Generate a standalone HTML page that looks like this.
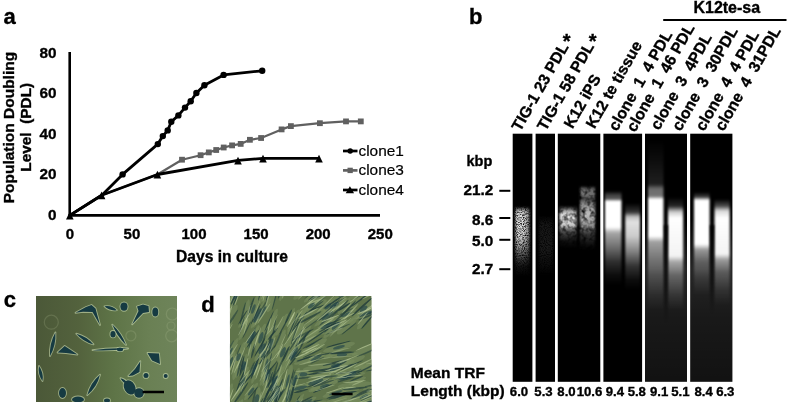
<!DOCTYPE html>
<html><head><meta charset="utf-8">
<style>
html,body{margin:0;padding:0;background:#fff;}
body{width:787px;height:404px;overflow:hidden;}
svg{display:block;}
text{font-family:"Liberation Sans",sans-serif;opacity:0.999;}
.b{font-weight:bold;stroke:#000;stroke-width:0.35px;}
</style></head>
<body>
<svg width="787" height="404" viewBox="0 0 787 404">
<defs>
<filter id="bl1" x="-30%" y="-30%" width="160%" height="160%"><feGaussianBlur stdDeviation="1"/></filter>
<filter id="bl05" x="-30%" y="-30%" width="160%" height="160%"><feGaussianBlur stdDeviation="0.6"/></filter>
<filter id="bl2" x="-30%" y="-30%" width="160%" height="160%"><feGaussianBlur stdDeviation="2"/></filter>
<filter id="speck" x="-10%" y="-10%" width="120%" height="120%">
  <feTurbulence type="fractalNoise" baseFrequency="0.9" numOctaves="1" seed="3" result="n"/>
  <feColorMatrix in="n" type="matrix" values="0 0 0 0 0  0 0 0 0 0  0 0 0 0 0  0 0 0 2.6 -0.55" result="a"/>
  <feComposite in="SourceGraphic" in2="a" operator="in"/>
</filter>
<filter id="blotch" x="-10%" y="-10%" width="120%" height="120%">
  <feTurbulence type="fractalNoise" baseFrequency="0.22" numOctaves="2" seed="5" result="n"/>
  <feColorMatrix in="n" type="matrix" values="0 0 0 0 0  0 0 0 0 0  0 0 0 0 0  0 0 0 1.9 -0.15" result="a"/>
  <feComposite in="SourceGraphic" in2="a" operator="in"/>
</filter>
<clipPath id="cc"><rect x="35.9" y="296" width="141.1" height="106"/></clipPath>
<clipPath id="cd"><rect x="229.9" y="296" width="141.7" height="106"/></clipPath>

<linearGradient id="l1" gradientUnits="userSpaceOnUse" x1="0" y1="207" x2="0" y2="276"><stop offset="0.0000" stop-color="#fff" stop-opacity="0"/><stop offset="0.0435" stop-color="#fff" stop-opacity="0.7"/><stop offset="0.1014" stop-color="#fff" stop-opacity="0.9"/><stop offset="0.4203" stop-color="#fff" stop-opacity="0.85"/><stop offset="0.5942" stop-color="#fff" stop-opacity="0.55"/><stop offset="0.7101" stop-color="#fff" stop-opacity="0.3"/><stop offset="0.8551" stop-color="#fff" stop-opacity="0.08"/><stop offset="1.0000" stop-color="#fff" stop-opacity="0"/></linearGradient>
<linearGradient id="l2" gradientUnits="userSpaceOnUse" x1="0" y1="215" x2="0" y2="275"><stop offset="0.0000" stop-color="#fff" stop-opacity="0"/><stop offset="0.1667" stop-color="#fff" stop-opacity="0.09"/><stop offset="0.5833" stop-color="#fff" stop-opacity="0.1"/><stop offset="0.8500" stop-color="#fff" stop-opacity="0.04"/><stop offset="1.0000" stop-color="#fff" stop-opacity="0"/></linearGradient>
<linearGradient id="l3" gradientUnits="userSpaceOnUse" x1="0" y1="206" x2="0" y2="248"><stop offset="0.0000" stop-color="#fff" stop-opacity="0"/><stop offset="0.1190" stop-color="#fff" stop-opacity="0.65"/><stop offset="0.2143" stop-color="#fff" stop-opacity="0.9"/><stop offset="0.4524" stop-color="#fff" stop-opacity="0.8"/><stop offset="0.5714" stop-color="#fff" stop-opacity="0.35"/><stop offset="0.8095" stop-color="#fff" stop-opacity="0.08"/><stop offset="1.0000" stop-color="#fff" stop-opacity="0"/></linearGradient>
<linearGradient id="l4" gradientUnits="userSpaceOnUse" x1="0" y1="186" x2="0" y2="250"><stop offset="0.0000" stop-color="#fff" stop-opacity="0"/><stop offset="0.0469" stop-color="#fff" stop-opacity="0.4"/><stop offset="0.1406" stop-color="#fff" stop-opacity="0.45"/><stop offset="0.2031" stop-color="#fff" stop-opacity="0.25"/><stop offset="0.2656" stop-color="#fff" stop-opacity="0.5"/><stop offset="0.4375" stop-color="#fff" stop-opacity="0.75"/><stop offset="0.6250" stop-color="#fff" stop-opacity="0.55"/><stop offset="0.7500" stop-color="#fff" stop-opacity="0.2"/><stop offset="0.9219" stop-color="#fff" stop-opacity="0.05"/><stop offset="1.0000" stop-color="#fff" stop-opacity="0"/></linearGradient>
<linearGradient id="l5" gradientUnits="userSpaceOnUse" x1="0" y1="191" x2="0" y2="285"><stop offset="0.0000" stop-color="#fff" stop-opacity="0"/><stop offset="0.0426" stop-color="#fff" stop-opacity="0.25"/><stop offset="0.0851" stop-color="#fff" stop-opacity="0.35"/><stop offset="0.1117" stop-color="#fff" stop-opacity="1"/><stop offset="0.3830" stop-color="#fff" stop-opacity="1"/><stop offset="0.4468" stop-color="#fff" stop-opacity="0.65"/><stop offset="0.6064" stop-color="#fff" stop-opacity="0.42"/><stop offset="0.7553" stop-color="#fff" stop-opacity="0.18"/><stop offset="0.8936" stop-color="#fff" stop-opacity="0.05"/><stop offset="1.0000" stop-color="#fff" stop-opacity="0"/></linearGradient>
<linearGradient id="l6" gradientUnits="userSpaceOnUse" x1="0" y1="203" x2="0" y2="290"><stop offset="0.0000" stop-color="#fff" stop-opacity="0"/><stop offset="0.1034" stop-color="#fff" stop-opacity="0.2"/><stop offset="0.1609" stop-color="#fff" stop-opacity="0.75"/><stop offset="0.2184" stop-color="#fff" stop-opacity="0.88"/><stop offset="0.3793" stop-color="#fff" stop-opacity="0.8"/><stop offset="0.5632" stop-color="#fff" stop-opacity="0.5"/><stop offset="0.7241" stop-color="#fff" stop-opacity="0.2"/><stop offset="0.8851" stop-color="#fff" stop-opacity="0.05"/><stop offset="1.0000" stop-color="#fff" stop-opacity="0"/></linearGradient>
<linearGradient id="l7" gradientUnits="userSpaceOnUse" x1="0" y1="140" x2="0" y2="310"><stop offset="0.0000" stop-color="#fff" stop-opacity="0"/><stop offset="0.1176" stop-color="#fff" stop-opacity="0.05"/><stop offset="0.2588" stop-color="#fff" stop-opacity="0.12"/><stop offset="0.2882" stop-color="#fff" stop-opacity="0.42"/><stop offset="0.3294" stop-color="#fff" stop-opacity="0.45"/><stop offset="0.3500" stop-color="#fff" stop-opacity="1"/><stop offset="0.5647" stop-color="#fff" stop-opacity="1"/><stop offset="0.6000" stop-color="#fff" stop-opacity="0.6"/><stop offset="0.6941" stop-color="#fff" stop-opacity="0.4"/><stop offset="0.7941" stop-color="#fff" stop-opacity="0.2"/><stop offset="0.9118" stop-color="#fff" stop-opacity="0.06"/><stop offset="1.0000" stop-color="#fff" stop-opacity="0"/></linearGradient>
<linearGradient id="l8" gradientUnits="userSpaceOnUse" x1="0" y1="197" x2="0" y2="310"><stop offset="0.0000" stop-color="#fff" stop-opacity="0"/><stop offset="0.0796" stop-color="#fff" stop-opacity="0.15"/><stop offset="0.1327" stop-color="#fff" stop-opacity="0.8"/><stop offset="0.1858" stop-color="#fff" stop-opacity="1"/><stop offset="0.5221" stop-color="#fff" stop-opacity="0.95"/><stop offset="0.5752" stop-color="#fff" stop-opacity="0.6"/><stop offset="0.6903" stop-color="#fff" stop-opacity="0.3"/><stop offset="0.8673" stop-color="#fff" stop-opacity="0.1"/><stop offset="1.0000" stop-color="#fff" stop-opacity="0"/></linearGradient>
<linearGradient id="l9" gradientUnits="userSpaceOnUse" x1="0" y1="192" x2="0" y2="295"><stop offset="0.0000" stop-color="#fff" stop-opacity="0"/><stop offset="0.0485" stop-color="#fff" stop-opacity="0.25"/><stop offset="0.0825" stop-color="#fff" stop-opacity="1"/><stop offset="0.5049" stop-color="#fff" stop-opacity="1"/><stop offset="0.5631" stop-color="#fff" stop-opacity="0.55"/><stop offset="0.6796" stop-color="#fff" stop-opacity="0.28"/><stop offset="0.8350" stop-color="#fff" stop-opacity="0.1"/><stop offset="1.0000" stop-color="#fff" stop-opacity="0"/></linearGradient>
<linearGradient id="l10" gradientUnits="userSpaceOnUse" x1="0" y1="199" x2="0" y2="305"><stop offset="0.0000" stop-color="#fff" stop-opacity="0"/><stop offset="0.0660" stop-color="#fff" stop-opacity="0.3"/><stop offset="0.1132" stop-color="#fff" stop-opacity="0.85"/><stop offset="0.1792" stop-color="#fff" stop-opacity="1"/><stop offset="0.5189" stop-color="#fff" stop-opacity="0.95"/><stop offset="0.5755" stop-color="#fff" stop-opacity="0.55"/><stop offset="0.6887" stop-color="#fff" stop-opacity="0.25"/><stop offset="0.8585" stop-color="#fff" stop-opacity="0.08"/><stop offset="1.0000" stop-color="#fff" stop-opacity="0"/></linearGradient>
<linearGradient id="haze" x1="0" y1="0" x2="0" y2="1"><stop offset="0" stop-color="#fff" stop-opacity="0"/><stop offset="0.3" stop-color="#fff" stop-opacity="0.15"/><stop offset="0.6" stop-color="#fff" stop-opacity="0.1"/><stop offset="1" stop-color="#fff" stop-opacity="0.07"/></linearGradient>
<linearGradient id="cbg" x1="0" y1="0" x2="1" y2="0"><stop offset="0" stop-color="#4b5838"/><stop offset="0.3" stop-color="#53623d"/><stop offset="0.55" stop-color="#5e7447"/><stop offset="0.8" stop-color="#6a8054"/><stop offset="1" stop-color="#6e845a"/></linearGradient>
<linearGradient id="l1shade" x1="0" y1="0" x2="1" y2="0"><stop offset="0" stop-color="#000" stop-opacity="0"/><stop offset="1" stop-color="#000" stop-opacity="0.45"/></linearGradient>
<linearGradient id="gapg" x1="0" y1="0" x2="0" y2="1"><stop offset="0" stop-color="#000" stop-opacity="0.9"/><stop offset="0.6" stop-color="#000" stop-opacity="0.5"/><stop offset="1" stop-color="#000" stop-opacity="0"/></linearGradient>
</defs>
<rect width="787" height="404" fill="#fff"/>
<!-- ===== Panel a ===== -->
<text x="3.5" y="23.7" class="b" font-size="22">a</text>
<g class="b" font-size="15">
  <text transform="translate(13.5,127.6) rotate(-90)" text-anchor="middle" font-size="15.5">Population Doubling</text>
  <text transform="translate(30.5,127.3) rotate(-90)" text-anchor="middle" font-size="15.4">Level &#160;(PDL)</text>
</g>
<g class="b" font-size="15.3" text-anchor="end">
  <text x="56.6" y="57.6">80</text>
  <text x="56.6" y="98">60</text>
  <text x="56.6" y="138.6">40</text>
  <text x="56.6" y="179.4">20</text>
  <text x="56.6" y="219.8">0</text>
</g>
<g class="b" font-size="15" text-anchor="middle">
  <text x="69.8" y="239">0</text>
  <text x="131.9" y="239">50</text>
  <text x="194" y="239">100</text>
  <text x="256.1" y="239">150</text>
  <text x="318.2" y="239">200</text>
  <text x="380.3" y="239">250</text>
  <text x="232" y="262" font-size="15.6">Days in culture</text>
</g>
<!-- axes -->
<line x1="69.7" y1="52" x2="69.7" y2="216.5" stroke="#000" stroke-width="2.6"/>
<line x1="68.5" y1="215.4" x2="380" y2="215.4" stroke="#000" stroke-width="2.6"/>

<!-- clone3 gray -->
<polyline fill="none" stroke="#606060" stroke-width="2.2" stroke-linejoin="round"
 points="69.8,215.4 101.6,195.3 157.4,174.5 182,159.7 200.6,155.2 208.8,152.4 216.2,150.0 223.7,147.5 232.1,145.4 240.7,143.9 249.9,139.8 261.1,138.0 281.6,129.4 290.9,126.1 319.9,123.2 346,121.4 360.8,121.4"/>
<g fill="#606060">
  <rect x="179.1" y="156.8" width="5.8" height="5.8"/><rect x="197.7" y="152.3" width="5.8" height="5.8"/>
  <rect x="205.9" y="149.5" width="5.8" height="5.8"/><rect x="213.29999999999998" y="147.1" width="5.8" height="5.8"/>
  <rect x="220.79999999999998" y="144.6" width="5.8" height="5.8"/><rect x="229.2" y="142.5" width="5.8" height="5.8"/>
  <rect x="237.79999999999998" y="141.0" width="5.8" height="5.8"/><rect x="247.0" y="136.9" width="5.8" height="5.8"/>
  <rect x="258.20000000000005" y="135.1" width="5.8" height="5.8"/><rect x="278.70000000000005" y="126.5" width="5.8" height="5.8"/>
  <rect x="288.0" y="123.2" width="5.8" height="5.8"/><rect x="317.0" y="120.3" width="5.8" height="5.8"/>
  <rect x="343.1" y="118.5" width="5.8" height="5.8"/><rect x="357.90000000000003" y="118.5" width="5.8" height="5.8"/>
</g>
<!-- clone4 -->
<polyline fill="none" stroke="#000" stroke-width="2.8" stroke-linejoin="round"
 points="69.8,215.4 101.6,195.3 157.4,174.5 238,160.4 263,158.3 319,158.3"/>
<!-- clone1 -->
<polyline fill="none" stroke="#000" stroke-width="2.8" stroke-linejoin="round"
 points="69.8,215.4 101.6,195.4 122.6,174.4 157.8,144.1 162.8,136.1 167.7,130.4 171.3,121.8 178.4,115.4 185,107.6 190.7,101.2 196.4,93.0 204.4,85.2 223.6,74.9 262.2,70.8"/>
<g fill="#000">
  <circle cx="122.6" cy="174.4" r="3.2"/><circle cx="157.8" cy="144.1" r="3.2"/>
  <circle cx="162.8" cy="136.1" r="3.2"/><circle cx="167.7" cy="130.4" r="3.2"/>
  <circle cx="171.3" cy="121.8" r="3.2"/><circle cx="178.4" cy="115.4" r="3.2"/>
  <circle cx="185" cy="107.6" r="3.2"/><circle cx="190.7" cy="101.2" r="3.2"/>
  <circle cx="196.4" cy="93.0" r="3.2"/><circle cx="204.4" cy="85.2" r="3.2"/>
  <circle cx="223.6" cy="74.9" r="3.2"/><circle cx="262.2" cy="70.8" r="3.2"/>
  <!-- triangles -->
  <path d="M69.8,211.8 L73.6,219.5 L66.0,219.5Z"/>
  <path d="M101.6,191.5 L105.4,199.2 L97.8,199.2Z"/>
  <path d="M157.4,170.7 L161.2,178.4 L153.6,178.4Z"/>
  <path d="M238.0,156.8 L241.8,164.5 L234.2,164.5Z"/>
  <path d="M263.0,154.7 L266.8,162.4 L259.2,162.4Z"/>
  <path d="M319.0,154.7 L322.8,162.4 L315.2,162.4Z"/>
</g>
<!-- legend -->
<g>
  <line x1="343" y1="151" x2="357.5" y2="151" stroke="#000" stroke-width="2.7"/>
  <circle cx="350.2" cy="151" r="2.7" fill="#000"/>
  <line x1="343" y1="170.4" x2="357.5" y2="170.4" stroke="#606060" stroke-width="2.7"/>
  <rect x="347.5" y="167.7" width="5.3" height="5.4" fill="#606060"/>
  <line x1="343" y1="190" x2="357.5" y2="190" stroke="#000" stroke-width="2.7"/>
  <path d="M349.9,186.2 L354.1,193.3 L345.7,193.3Z" fill="#000"/>
</g>
<g font-size="15.4" stroke="#000" stroke-width="0.2">
  <text x="358.5" y="156.3">clone1</text>
  <text x="358.5" y="175.3">clone3</text>
  <text x="358.5" y="195.3">clone4</text>
</g>


<!-- ===== Panel b ===== -->
<text x="469" y="23.7" class="b" font-size="22">b</text>
<text x="726.8" y="12.8" class="b" font-size="16" text-anchor="middle">K12te-sa</text>
<line x1="663.2" y1="20" x2="786.5" y2="20" stroke="#000" stroke-width="2.2"/>

<g class="b" font-size="15.8">
  <text transform="translate(520.2,132.2) rotate(-60.3)">TIG-1 23 PDL</text>
  <text transform="translate(545.7,131.8) rotate(-60.3)">TIG-1 58 PDL</text>
  <text transform="translate(572.4,129.5) rotate(-60.3)">K12 iPS</text>
  <text transform="translate(594.4,129.5) rotate(-60.3)">K12 te tissue</text>
  <text transform="translate(617,132) rotate(-60.3)">clone &#160;1 &#160;4 PDL</text>
  <text transform="translate(634.9,132.9) rotate(-60.3)">clone &#160;1 &#160;46 PDL</text>
  <text transform="translate(658.9,131) rotate(-60.3)">clone &#160;3 &#160;4PDL</text>
  <text transform="translate(680.4,132) rotate(-60.3)">clone &#160;3 &#160;30PDL</text>
  <text transform="translate(703.9,132) rotate(-60.3)">clone &#160;4 &#160;4 PDL</text>
  <text transform="translate(723.4,132) rotate(-60.3)">clone &#160;4 &#160;31PDL</text>
</g>

<text x="566.7" y="48.2" class="b" font-size="20" text-anchor="middle">*</text>
<text x="592.7" y="48.2" class="b" font-size="20" text-anchor="middle">*</text>
<g class="b" font-size="14.5">
  <text x="466.5" y="165.5">kbp</text>
</g>
<g class="b" font-size="15.3" text-anchor="end">
  <text x="493.2" y="195.3">21.2</text>
  <text x="493.2" y="224.9">8.6</text>
  <text x="493.2" y="246.3">5.0</text>
  <text x="493.2" y="273.8">2.7</text>
</g>
<g stroke="#000" stroke-width="2">
  <line x1="499.3" y1="190.8" x2="510.3" y2="190.8"/>
  <line x1="499.3" y1="218" x2="510.3" y2="218"/>
  <line x1="499.3" y1="239.8" x2="510.3" y2="239.8"/>
  <line x1="499.3" y1="269.2" x2="510.3" y2="269.2"/>
</g>

<g class="b" font-size="15.5">
  <text x="410.8" y="377.6">Mean TRF</text>
  <text x="410.8" y="395.9">Length (kbp)</text>
</g>
<g class="b" font-size="13.2" text-anchor="middle">
  <text x="519" y="396">6.0</text>
  <text x="543.5" y="396">5.3</text>
  <text x="566.5" y="396">8.0</text>
  <text x="589.5" y="396">10.6</text>
  <text x="614.9" y="396">9.4</text>
  <text x="636.8" y="396">5.8</text>
  <text x="659.2" y="396">9.1</text>
  <text x="680.4" y="396">5.1</text>
  <text x="703.7" y="396">8.4</text>
  <text x="725.3" y="396">6.3</text>
</g>


<g>
<rect x="512.7" y="133.7" width="19.7" height="248.1" fill="#000"/>
<rect x="535.6" y="133.7" width="19.4" height="248.1" fill="#000"/>
<rect x="557.8" y="133.7" width="42.5" height="248.1" fill="#000"/>
<rect x="603.4" y="133.7" width="38.7" height="248.1" fill="#000"/>
<rect x="645" y="133.7" width="42" height="248.1" fill="#000"/>
<rect x="690.2" y="133.7" width="42.2" height="248.1" fill="#000"/>
<rect x="645" y="220" width="42" height="161.8" fill="url(#haze)"/>
<rect x="690.2" y="220" width="42.2" height="161.8" fill="url(#haze)"/>
<g filter="url(#speck)"><g filter="url(#bl1)"><rect x="515.5" y="207" width="14" height="69" fill="url(#l1)"/></g></g>
<g filter="url(#speck)"><g filter="url(#bl1)"><rect x="539" y="215" width="14" height="60" fill="url(#l2)"/></g></g>
<g filter="url(#bl05)"><g filter="url(#blotch)"><g filter="url(#bl1)"><rect x="559.5" y="206" width="17" height="42" fill="url(#l3)"/></g></g></g>
<g filter="url(#bl05)"><g filter="url(#blotch)"><g filter="url(#bl1)"><rect x="580" y="186" width="15" height="64" fill="url(#l4)"/></g></g></g>
<g filter="url(#bl1)"><rect x="605" y="191" width="16.5" height="94" fill="url(#l5)"/></g>
<g filter="url(#bl1)"><rect x="625.2" y="203" width="14.8" height="87" fill="url(#l6)"/></g>
<g filter="url(#bl1)"><rect x="648" y="140" width="15.5" height="170" fill="url(#l7)"/></g>
<g filter="url(#bl1)"><rect x="668" y="197" width="15.2" height="113" fill="url(#l8)"/></g>
<g filter="url(#bl1)"><rect x="694" y="192" width="15.6" height="103" fill="url(#l9)"/></g>
<g filter="url(#bl1)"><rect x="714.5" y="199" width="15.2" height="106" fill="url(#l10)"/></g>
<rect x="522" y="205" width="9" height="75" fill="url(#l1shade)"/>
<g filter="url(#bl1)"><rect x="664.2" y="225" width="3.6" height="100" fill="url(#gapg)"/><rect x="710" y="225" width="4" height="90" fill="url(#gapg)"/></g>
</g>
<!-- ===== Panel c ===== -->
<text x="3.8" y="307.2" class="b" font-size="22">c</text>
<g clip-path="url(#cc)">
<rect x="35.9" y="296" width="141.1" height="106" fill="url(#cbg)"/>
<g filter="url(#bl05)" opacity="0.2">
<circle cx="51.3" cy="322.2" r="7" fill="none" stroke="#b8c49a" stroke-width="1.2"/>
<circle cx="130.9" cy="335.8" r="5" fill="none" stroke="#b8c49a" stroke-width="1.2"/>
<circle cx="171.7" cy="335.8" r="6" fill="none" stroke="#b8c49a" stroke-width="1.2"/>
<circle cx="172.3" cy="314" r="6" fill="none" stroke="#b8c49a" stroke-width="1.2"/>
<circle cx="171" cy="326" r="4" fill="none" stroke="#b8c49a" stroke-width="1.2"/>
</g>
<g filter="url(#bl05)">
<path d="M75.5,312.8 L86.0,307.0 L91.5,305.0 L95.5,308.5 L100.0,325.0 L92.5,312.0 L83.0,311.8Z" fill="none" stroke="#d0e0b4" stroke-width="1.8" stroke-linejoin="round" opacity="0.6"/>
<path d="M104.5,306.3 Q109.7,311.3 116.8,310.2 Q111.6,305.2 104.5,306.3Z" fill="none" stroke="#d0e0b4" stroke-width="1.8" stroke-linejoin="round" opacity="0.6"/>
<ellipse cx="124" cy="306.6" rx="3.6" ry="4.2" transform="rotate(0 124 306.6)" fill="none" stroke="#d0e0b4" stroke-width="1.8" stroke-linejoin="round" opacity="0.6"/>
<path d="M137.0,306.5 L143.0,304.5 L148.5,306.0 L149.0,312.0 L143.0,313.0 L132.2,324.3 L138.5,311.0Z" fill="none" stroke="#d0e0b4" stroke-width="1.8" stroke-linejoin="round" opacity="0.6"/>
<ellipse cx="155.3" cy="312" rx="3" ry="4.5" transform="rotate(0 155.3 312)" fill="none" stroke="#d0e0b4" stroke-width="1.8" stroke-linejoin="round" opacity="0.6"/>
<path d="M112.3,324.6 Q116.8,336.3 126.0,344.9 Q121.5,333.2 112.3,324.6Z" fill="none" stroke="#d0e0b4" stroke-width="1.8" stroke-linejoin="round" opacity="0.6"/>
<ellipse cx="113" cy="334.2" rx="2.6" ry="3.2" transform="rotate(0 113 334.2)" fill="none" stroke="#d0e0b4" stroke-width="1.8" stroke-linejoin="round" opacity="0.6"/>
<path d="M76.3,333.7 Q83.2,341.8 93.5,344.4 Q86.6,336.3 76.3,333.7Z" fill="none" stroke="#d0e0b4" stroke-width="1.8" stroke-linejoin="round" opacity="0.6"/>
<path d="M55.4,332.4 Q49.2,343.4 50.0,356.0 Q56.2,345.0 55.4,332.4Z" fill="none" stroke="#d0e0b4" stroke-width="1.8" stroke-linejoin="round" opacity="0.6"/>
<path d="M92.5,350.2 Q110.4,351.2 128.1,348.5 Q110.2,347.5 92.5,350.2Z" fill="none" stroke="#d0e0b4" stroke-width="1.8" stroke-linejoin="round" opacity="0.6"/>
<ellipse cx="120" cy="349.4" rx="3.2" ry="1.8" transform="rotate(0 120 349.4)" fill="none" stroke="#d0e0b4" stroke-width="1.8" stroke-linejoin="round" opacity="0.6"/>
<path d="M57.6,352.5 L64.7,346.0 L70.0,349.5 L77.4,354.5 L66.0,353.0Z" fill="none" stroke="#d0e0b4" stroke-width="1.8" stroke-linejoin="round" opacity="0.6"/>
<path d="M39.0,366.0 Q37.6,374.2 42.5,381.0 Q43.9,372.8 39.0,366.0Z" fill="none" stroke="#d0e0b4" stroke-width="1.8" stroke-linejoin="round" opacity="0.6"/>
<ellipse cx="62.5" cy="393" rx="3.5" ry="5" transform="rotate(0 62.5 393)" fill="none" stroke="#d0e0b4" stroke-width="1.8" stroke-linejoin="round" opacity="0.6"/>
<path d="M100.0,374.7 Q90.3,382.8 87.3,395.1 Q97.0,387.0 100.0,374.7Z" fill="none" stroke="#d0e0b4" stroke-width="1.8" stroke-linejoin="round" opacity="0.6"/>
<ellipse cx="78" cy="399.5" rx="6" ry="3" transform="rotate(0 78 399.5)" fill="none" stroke="#d0e0b4" stroke-width="1.8" stroke-linejoin="round" opacity="0.6"/>
<path d="M147.5,353.0 L159.0,353.5 L160.0,364.0 L152.0,360.5Z" fill="none" stroke="#d0e0b4" stroke-width="1.8" stroke-linejoin="round" opacity="0.6"/>
<path d="M128.3,376.0 L135.0,369.0 L140.3,361.2 L139.5,372.0 L133.0,375.5Z" fill="none" stroke="#d0e0b4" stroke-width="1.8" stroke-linejoin="round" opacity="0.6"/>
<ellipse cx="146" cy="375.4" rx="2.5" ry="2.5" transform="rotate(0 146 375.4)" fill="none" stroke="#d0e0b4" stroke-width="1.8" stroke-linejoin="round" opacity="0.6"/>
<ellipse cx="165.7" cy="376" rx="2" ry="2" transform="rotate(0 165.7 376)" fill="none" stroke="#d0e0b4" stroke-width="1.8" stroke-linejoin="round" opacity="0.6"/>
<ellipse cx="129.7" cy="387.4" rx="5.5" ry="7.5" transform="rotate(-30 129.7 387.4)" fill="none" stroke="#d0e0b4" stroke-width="1.8" stroke-linejoin="round" opacity="0.6"/>
<ellipse cx="139" cy="393" rx="4.8" ry="4.8" transform="rotate(0 139 393)" fill="none" stroke="#d0e0b4" stroke-width="1.8" stroke-linejoin="round" opacity="0.6"/>
<path d="M120.5,378.2 Q122.7,383.1 128.0,384.0 Q125.8,379.1 120.5,378.2Z" fill="none" stroke="#d0e0b4" stroke-width="1.8" stroke-linejoin="round" opacity="0.6"/>
<ellipse cx="107" cy="400.5" rx="3" ry="2" transform="rotate(0 107 400.5)" fill="none" stroke="#d0e0b4" stroke-width="1.8" stroke-linejoin="round" opacity="0.6"/>
<path d="M75.5,312.8 L86.0,307.0 L91.5,305.0 L95.5,308.5 L100.0,325.0 L92.5,312.0 L83.0,311.8Z" fill="#173a42"/>
<path d="M104.5,306.3 Q109.7,311.3 116.8,310.2 Q111.6,305.2 104.5,306.3Z" fill="#173a42"/>
<ellipse cx="124" cy="306.6" rx="3.6" ry="4.2" transform="rotate(0 124 306.6)" fill="#173a42"/>
<path d="M137.0,306.5 L143.0,304.5 L148.5,306.0 L149.0,312.0 L143.0,313.0 L132.2,324.3 L138.5,311.0Z" fill="#173a42"/>
<ellipse cx="155.3" cy="312" rx="3" ry="4.5" transform="rotate(0 155.3 312)" fill="#173a42"/>
<path d="M112.3,324.6 Q116.8,336.3 126.0,344.9 Q121.5,333.2 112.3,324.6Z" fill="#173a42"/>
<ellipse cx="113" cy="334.2" rx="2.6" ry="3.2" transform="rotate(0 113 334.2)" fill="#173a42"/>
<path d="M76.3,333.7 Q83.2,341.8 93.5,344.4 Q86.6,336.3 76.3,333.7Z" fill="#173a42"/>
<path d="M55.4,332.4 Q49.2,343.4 50.0,356.0 Q56.2,345.0 55.4,332.4Z" fill="#173a42"/>
<path d="M92.5,350.2 Q110.4,351.2 128.1,348.5 Q110.2,347.5 92.5,350.2Z" fill="#173a42"/>
<ellipse cx="120" cy="349.4" rx="3.2" ry="1.8" transform="rotate(0 120 349.4)" fill="#173a42"/>
<path d="M57.6,352.5 L64.7,346.0 L70.0,349.5 L77.4,354.5 L66.0,353.0Z" fill="#173a42"/>
<path d="M39.0,366.0 Q37.6,374.2 42.5,381.0 Q43.9,372.8 39.0,366.0Z" fill="#173a42"/>
<ellipse cx="62.5" cy="393" rx="3.5" ry="5" transform="rotate(0 62.5 393)" fill="#173a42"/>
<path d="M100.0,374.7 Q90.3,382.8 87.3,395.1 Q97.0,387.0 100.0,374.7Z" fill="#173a42"/>
<ellipse cx="78" cy="399.5" rx="6" ry="3" transform="rotate(0 78 399.5)" fill="#173a42"/>
<path d="M147.5,353.0 L159.0,353.5 L160.0,364.0 L152.0,360.5Z" fill="#173a42"/>
<path d="M128.3,376.0 L135.0,369.0 L140.3,361.2 L139.5,372.0 L133.0,375.5Z" fill="#173a42"/>
<ellipse cx="146" cy="375.4" rx="2.5" ry="2.5" transform="rotate(0 146 375.4)" fill="#173a42"/>
<ellipse cx="165.7" cy="376" rx="2" ry="2" transform="rotate(0 165.7 376)" fill="#173a42"/>
<ellipse cx="129.7" cy="387.4" rx="5.5" ry="7.5" transform="rotate(-30 129.7 387.4)" fill="#173a42"/>
<ellipse cx="139" cy="393" rx="4.8" ry="4.8" transform="rotate(0 139 393)" fill="#173a42"/>
<path d="M120.5,378.2 Q122.7,383.1 128.0,384.0 Q125.8,379.1 120.5,378.2Z" fill="#173a42"/>
<ellipse cx="107" cy="400.5" rx="3" ry="2" transform="rotate(0 107 400.5)" fill="#173a42"/>
</g>
</g>
<line x1="142.6" y1="392" x2="164" y2="392" stroke="#000" stroke-width="2.5"/>
<!-- ===== Panel d ===== -->
<text x="201.3" y="311.5" class="b" font-size="22">d</text>
<g clip-path="url(#cd)">
<rect x="229.9" y="296" width="141.7" height="106" fill="#5f744a"/>
<g filter="url(#bl05)">
<ellipse cx="293.2" cy="356.1" rx="13.2" ry="2.6" transform="rotate(-52 293.2 356.1)" fill="#768c5e" opacity="0.6"/>
<ellipse cx="347.9" cy="371.8" rx="17.8" ry="3.4" transform="rotate(-26 347.9 371.8)" fill="#768c5e" opacity="0.6"/>
<ellipse cx="315.7" cy="381.8" rx="14.3" ry="2.1" transform="rotate(-19 315.7 381.8)" fill="#768c5e" opacity="0.6"/>
<ellipse cx="352.6" cy="373.5" rx="11.1" ry="2.3" transform="rotate(-19 352.6 373.5)" fill="#768c5e" opacity="0.6"/>
<ellipse cx="256.7" cy="399.4" rx="12.4" ry="3.0" transform="rotate(-78 256.7 399.4)" fill="#768c5e" opacity="0.6"/>
<ellipse cx="340.0" cy="303.9" rx="9.9" ry="1.9" transform="rotate(-41 340.0 303.9)" fill="#768c5e" opacity="0.6"/>
<ellipse cx="244.0" cy="366.0" rx="12.8" ry="2.1" transform="rotate(-77 244.0 366.0)" fill="#768c5e" opacity="0.6"/>
<ellipse cx="316.1" cy="358.1" rx="10.3" ry="2.5" transform="rotate(-26 316.1 358.1)" fill="#768c5e" opacity="0.6"/>
<ellipse cx="316.0" cy="333.9" rx="17.6" ry="2.6" transform="rotate(-34 316.0 333.9)" fill="#768c5e" opacity="0.6"/>
<ellipse cx="262.2" cy="312.4" rx="17.5" ry="2.1" transform="rotate(-58 262.2 312.4)" fill="#768c5e" opacity="0.6"/>
<ellipse cx="331.8" cy="320.3" rx="14.4" ry="2.3" transform="rotate(-21 331.8 320.3)" fill="#768c5e" opacity="0.6"/>
<ellipse cx="318.2" cy="298.7" rx="17.2" ry="3.1" transform="rotate(-43 318.2 298.7)" fill="#768c5e" opacity="0.6"/>
<ellipse cx="311.5" cy="305.5" rx="17.0" ry="3.5" transform="rotate(-37 311.5 305.5)" fill="#768c5e" opacity="0.6"/>
<ellipse cx="235.4" cy="297.9" rx="10.2" ry="1.9" transform="rotate(-71 235.4 297.9)" fill="#768c5e" opacity="0.6"/>
<ellipse cx="345.4" cy="398.0" rx="15.2" ry="3.3" transform="rotate(-18 345.4 398.0)" fill="#768c5e" opacity="0.6"/>
<ellipse cx="282.0" cy="291.5" rx="9.8" ry="2.0" transform="rotate(-78 282.0 291.5)" fill="#768c5e" opacity="0.6"/>
<ellipse cx="291.4" cy="388.9" rx="15.8" ry="1.8" transform="rotate(-77 291.4 388.9)" fill="#768c5e" opacity="0.6"/>
<ellipse cx="364.8" cy="320.2" rx="11.7" ry="2.9" transform="rotate(-50 364.8 320.2)" fill="#768c5e" opacity="0.6"/>
<ellipse cx="260.9" cy="337.8" rx="14.7" ry="3.2" transform="rotate(-72 260.9 337.8)" fill="#768c5e" opacity="0.6"/>
<ellipse cx="353.9" cy="373.9" rx="11.5" ry="2.0" transform="rotate(-3 353.9 373.9)" fill="#768c5e" opacity="0.6"/>
<ellipse cx="326.8" cy="374.5" rx="14.6" ry="2.3" transform="rotate(-6 326.8 374.5)" fill="#768c5e" opacity="0.6"/>
<ellipse cx="323.3" cy="356.6" rx="12.6" ry="2.1" transform="rotate(-11 323.3 356.6)" fill="#768c5e" opacity="0.6"/>
<ellipse cx="320.4" cy="367.3" rx="17.6" ry="2.9" transform="rotate(-7 320.4 367.3)" fill="#768c5e" opacity="0.6"/>
<ellipse cx="229.5" cy="316.7" rx="13.9" ry="3.4" transform="rotate(-57 229.5 316.7)" fill="#768c5e" opacity="0.6"/>
<ellipse cx="334.5" cy="305.3" rx="14.6" ry="3.3" transform="rotate(-34 334.5 305.3)" fill="#768c5e" opacity="0.6"/>
<ellipse cx="239.1" cy="392.2" rx="17.3" ry="2.0" transform="rotate(-56 239.1 392.2)" fill="#768c5e" opacity="0.6"/>
<ellipse cx="273.0" cy="397.4" rx="12.1" ry="1.9" transform="rotate(-54 273.0 397.4)" fill="#768c5e" opacity="0.6"/>
<ellipse cx="229.4" cy="352.9" rx="17.2" ry="2.6" transform="rotate(-59 229.4 352.9)" fill="#768c5e" opacity="0.6"/>
<ellipse cx="335.5" cy="365.4" rx="16.6" ry="2.7" transform="rotate(-14 335.5 365.4)" fill="#768c5e" opacity="0.6"/>
<ellipse cx="265.8" cy="348.7" rx="10.0" ry="1.8" transform="rotate(-68 265.8 348.7)" fill="#768c5e" opacity="0.6"/>
<ellipse cx="310.1" cy="347.9" rx="9.6" ry="2.7" transform="rotate(-26 310.1 347.9)" fill="#768c5e" opacity="0.6"/>
<ellipse cx="276.0" cy="396.3" rx="17.3" ry="2.7" transform="rotate(-52 276.0 396.3)" fill="#768c5e" opacity="0.6"/>
<ellipse cx="227.5" cy="312.9" rx="15.2" ry="2.3" transform="rotate(-73 227.5 312.9)" fill="#768c5e" opacity="0.6"/>
<ellipse cx="319.4" cy="374.7" rx="16.9" ry="1.8" transform="rotate(-9 319.4 374.7)" fill="#768c5e" opacity="0.6"/>
<ellipse cx="257.4" cy="315.5" rx="14.3" ry="2.0" transform="rotate(-64 257.4 315.5)" fill="#768c5e" opacity="0.6"/>
<ellipse cx="244.5" cy="318.2" rx="11.3" ry="1.9" transform="rotate(-58 244.5 318.2)" fill="#768c5e" opacity="0.6"/>
<ellipse cx="238.7" cy="357.2" rx="16.4" ry="2.4" transform="rotate(-69 238.7 357.2)" fill="#768c5e" opacity="0.6"/>
<ellipse cx="302.8" cy="357.1" rx="10.7" ry="2.1" transform="rotate(-23 302.8 357.1)" fill="#768c5e" opacity="0.6"/>
<ellipse cx="294.7" cy="380.2" rx="13.2" ry="2.7" transform="rotate(-70 294.7 380.2)" fill="#768c5e" opacity="0.6"/>
<ellipse cx="280.6" cy="398.8" rx="9.9" ry="3.1" transform="rotate(-62 280.6 398.8)" fill="#768c5e" opacity="0.6"/>
<ellipse cx="285.9" cy="360.8" rx="17.8" ry="3.2" transform="rotate(-65 285.9 360.8)" fill="#768c5e" opacity="0.6"/>
<ellipse cx="244.4" cy="328.9" rx="12.3" ry="2.5" transform="rotate(-64 244.4 328.9)" fill="#768c5e" opacity="0.6"/>
<ellipse cx="225.6" cy="332.0" rx="14.6" ry="2.2" transform="rotate(-61 225.6 332.0)" fill="#768c5e" opacity="0.6"/>
<ellipse cx="377.0" cy="365.8" rx="15.9" ry="3.5" transform="rotate(-9 377.0 365.8)" fill="#768c5e" opacity="0.6"/>
<ellipse cx="340.5" cy="366.5" rx="11.3" ry="2.2" transform="rotate(-27 340.5 366.5)" fill="#768c5e" opacity="0.6"/>
<ellipse cx="321.6" cy="385.5" rx="14.4" ry="3.1" transform="rotate(-25 321.6 385.5)" fill="#768c5e" opacity="0.6"/>
<ellipse cx="306.9" cy="360.4" rx="13.5" ry="2.2" transform="rotate(-16 306.9 360.4)" fill="#768c5e" opacity="0.6"/>
<ellipse cx="267.4" cy="374.6" rx="9.1" ry="2.2" transform="rotate(-71 267.4 374.6)" fill="#768c5e" opacity="0.6"/>
<ellipse cx="334.6" cy="327.7" rx="11.0" ry="3.0" transform="rotate(-22 334.6 327.7)" fill="#768c5e" opacity="0.6"/>
<ellipse cx="295.7" cy="405.5" rx="14.4" ry="2.0" transform="rotate(-55 295.7 405.5)" fill="#768c5e" opacity="0.6"/>
<ellipse cx="293.7" cy="320.9" rx="12.8" ry="3.1" transform="rotate(-63 293.7 320.9)" fill="#768c5e" opacity="0.6"/>
<ellipse cx="344.0" cy="363.7" rx="11.4" ry="2.9" transform="rotate(-18 344.0 363.7)" fill="#768c5e" opacity="0.6"/>
<ellipse cx="364.1" cy="393.7" rx="9.5" ry="2.2" transform="rotate(-26 364.1 393.7)" fill="#768c5e" opacity="0.6"/>
<ellipse cx="363.7" cy="309.0" rx="17.8" ry="2.6" transform="rotate(-42 363.7 309.0)" fill="#768c5e" opacity="0.6"/>
<ellipse cx="319.4" cy="380.7" rx="12.8" ry="2.2" transform="rotate(-22 319.4 380.7)" fill="#768c5e" opacity="0.6"/>
<ellipse cx="338.2" cy="398.7" rx="12.3" ry="1.9" transform="rotate(-16 338.2 398.7)" fill="#768c5e" opacity="0.6"/>
<ellipse cx="269.7" cy="381.5" rx="10.9" ry="2.9" transform="rotate(-78 269.7 381.5)" fill="#768c5e" opacity="0.6"/>
<ellipse cx="257.5" cy="367.6" rx="17.2" ry="2.3" transform="rotate(-70 257.5 367.6)" fill="#768c5e" opacity="0.6"/>
<ellipse cx="346.9" cy="326.0" rx="12.6" ry="3.4" transform="rotate(-39 346.9 326.0)" fill="#768c5e" opacity="0.6"/>
<ellipse cx="345.8" cy="377.2" rx="12.5" ry="2.0" transform="rotate(-18 345.8 377.2)" fill="#768c5e" opacity="0.6"/>
<ellipse cx="310.8" cy="404.0" rx="16.2" ry="1.9" transform="rotate(-11 310.8 404.0)" fill="#768c5e" opacity="0.6"/>
<ellipse cx="237.0" cy="364.8" rx="15.7" ry="2.9" transform="rotate(-76 237.0 364.8)" fill="#768c5e" opacity="0.6"/>
<ellipse cx="277.6" cy="385.3" rx="10.2" ry="2.6" transform="rotate(-70 277.6 385.3)" fill="#768c5e" opacity="0.6"/>
<ellipse cx="354.6" cy="385.1" rx="17.0" ry="3.4" transform="rotate(-6 354.6 385.1)" fill="#768c5e" opacity="0.6"/>
<ellipse cx="246.4" cy="377.5" rx="12.4" ry="2.0" transform="rotate(-50 246.4 377.5)" fill="#768c5e" opacity="0.6"/>
<ellipse cx="335.8" cy="325.8" rx="17.3" ry="3.3" transform="rotate(-45 335.8 325.8)" fill="#768c5e" opacity="0.6"/>
<ellipse cx="315.8" cy="345.7" rx="13.0" ry="3.3" transform="rotate(-32 315.8 345.7)" fill="#768c5e" opacity="0.6"/>
<ellipse cx="297.4" cy="320.7" rx="17.2" ry="2.3" transform="rotate(-53 297.4 320.7)" fill="#768c5e" opacity="0.6"/>
<ellipse cx="282.9" cy="352.3" rx="11.5" ry="3.5" transform="rotate(-65 282.9 352.3)" fill="#768c5e" opacity="0.6"/>
<ellipse cx="287.6" cy="381.1" rx="17.2" ry="3.2" transform="rotate(-76 287.6 381.1)" fill="#768c5e" opacity="0.6"/>
<ellipse cx="349.7" cy="389.8" rx="9.7" ry="2.2" transform="rotate(-6 349.7 389.8)" fill="#768c5e" opacity="0.6"/>
<ellipse cx="301.4" cy="292.2" rx="10.7" ry="2.9" transform="rotate(-43 301.4 292.2)" fill="#768c5e" opacity="0.6"/>
<ellipse cx="271.6" cy="326.7" rx="11.8" ry="2.6" transform="rotate(-78 271.6 326.7)" fill="#768c5e" opacity="0.6"/>
<ellipse cx="371.9" cy="387.9" rx="9.1" ry="2.4" transform="rotate(-11 371.9 387.9)" fill="#768c5e" opacity="0.6"/>
<ellipse cx="346.3" cy="314.4" rx="11.6" ry="2.4" transform="rotate(-28 346.3 314.4)" fill="#768c5e" opacity="0.6"/>
<ellipse cx="271.4" cy="322.3" rx="14.8" ry="2.5" transform="rotate(-66 271.4 322.3)" fill="#768c5e" opacity="0.6"/>
<ellipse cx="251.5" cy="337.5" rx="14.3" ry="1.9" transform="rotate(-55 251.5 337.5)" fill="#768c5e" opacity="0.6"/>
<ellipse cx="245.3" cy="314.2" rx="15.2" ry="2.6" transform="rotate(-76 245.3 314.2)" fill="#768c5e" opacity="0.6"/>
<ellipse cx="261.5" cy="406.3" rx="11.3" ry="2.1" transform="rotate(-64 261.5 406.3)" fill="#768c5e" opacity="0.6"/>
<ellipse cx="350.3" cy="362.1" rx="15.9" ry="3.3" transform="rotate(-23 350.3 362.1)" fill="#768c5e" opacity="0.6"/>
<ellipse cx="303.0" cy="374.4" rx="10.8" ry="3.4" transform="rotate(-6 303.0 374.4)" fill="#768c5e" opacity="0.6"/>
<ellipse cx="264.7" cy="394.2" rx="15.6" ry="2.2" transform="rotate(-66 264.7 394.2)" fill="#768c5e" opacity="0.6"/>
<ellipse cx="316.0" cy="304.5" rx="11.6" ry="3.3" transform="rotate(-21 316.0 304.5)" fill="#768c5e" opacity="0.6"/>
<ellipse cx="293.5" cy="337.6" rx="17.4" ry="3.5" transform="rotate(-57 293.5 337.6)" fill="#768c5e" opacity="0.6"/>
<ellipse cx="347.0" cy="291.9" rx="13.2" ry="2.0" transform="rotate(-43 347.0 291.9)" fill="#768c5e" opacity="0.6"/>
<ellipse cx="343.9" cy="375.2" rx="12.6" ry="2.6" transform="rotate(-7 343.9 375.2)" fill="#768c5e" opacity="0.6"/>
<ellipse cx="339.0" cy="347.3" rx="16.5" ry="3.2" transform="rotate(-15 339.0 347.3)" fill="#768c5e" opacity="0.6"/>
<ellipse cx="227.7" cy="397.1" rx="14.5" ry="2.5" transform="rotate(-71 227.7 397.1)" fill="#768c5e" opacity="0.6"/>
<ellipse cx="300.9" cy="336.8" rx="15.3" ry="2.7" transform="rotate(-48 300.9 336.8)" fill="#768c5e" opacity="0.6"/>
<ellipse cx="335.8" cy="392.8" rx="13.9" ry="2.7" transform="rotate(-18 335.8 392.8)" fill="#768c5e" opacity="0.6"/>
<ellipse cx="306.3" cy="402.2" rx="11.2" ry="2.3" transform="rotate(-27 306.3 402.2)" fill="#768c5e" opacity="0.6"/>
<ellipse cx="270.9" cy="343.7" rx="11.9" ry="2.0" transform="rotate(-71 270.9 343.7)" fill="#768c5e" opacity="0.6"/>
<ellipse cx="361.6" cy="291.9" rx="15.3" ry="2.7" transform="rotate(-28 361.6 291.9)" fill="#768c5e" opacity="0.6"/>
<ellipse cx="271.9" cy="396.2" rx="15.4" ry="2.0" transform="rotate(-54 271.9 396.2)" fill="#768c5e" opacity="0.6"/>
<ellipse cx="265.1" cy="375.0" rx="11.7" ry="2.2" transform="rotate(-65 265.1 375.0)" fill="#768c5e" opacity="0.6"/>
<ellipse cx="266.4" cy="365.5" rx="17.8" ry="2.5" transform="rotate(-77 266.4 365.5)" fill="#768c5e" opacity="0.6"/>
<ellipse cx="267.6" cy="379.2" rx="11.5" ry="2.7" transform="rotate(-73 267.6 379.2)" fill="#768c5e" opacity="0.6"/>
<ellipse cx="313.5" cy="290.3" rx="9.5" ry="1.9" transform="rotate(-19 313.5 290.3)" fill="#768c5e" opacity="0.6"/>
<ellipse cx="321.1" cy="406.0" rx="13.8" ry="2.8" transform="rotate(-8 321.1 406.0)" fill="#768c5e" opacity="0.6"/>
<ellipse cx="263.7" cy="354.2" rx="14.4" ry="2.2" transform="rotate(-54 263.7 354.2)" fill="#768c5e" opacity="0.6"/>
<ellipse cx="299.9" cy="341.3" rx="11.4" ry="3.1" transform="rotate(-67 299.9 341.3)" fill="#768c5e" opacity="0.6"/>
<ellipse cx="319.4" cy="296.4" rx="15.3" ry="3.2" transform="rotate(-35 319.4 296.4)" fill="#768c5e" opacity="0.6"/>
<ellipse cx="262.0" cy="348.6" rx="14.4" ry="2.5" transform="rotate(-60 262.0 348.6)" fill="#768c5e" opacity="0.6"/>
<ellipse cx="374.9" cy="307.1" rx="15.7" ry="1.8" transform="rotate(-34 374.9 307.1)" fill="#768c5e" opacity="0.6"/>
<ellipse cx="367.1" cy="404.7" rx="15.5" ry="3.5" transform="rotate(-10 367.1 404.7)" fill="#768c5e" opacity="0.6"/>
<ellipse cx="368.8" cy="398.9" rx="10.4" ry="2.8" transform="rotate(-22 368.8 398.9)" fill="#768c5e" opacity="0.6"/>
<ellipse cx="251.1" cy="391.5" rx="10.9" ry="2.4" transform="rotate(-52 251.1 391.5)" fill="#768c5e" opacity="0.6"/>
<ellipse cx="295.6" cy="326.4" rx="17.9" ry="2.9" transform="rotate(-67 295.6 326.4)" fill="#768c5e" opacity="0.6"/>
<ellipse cx="266.0" cy="292.2" rx="11.4" ry="2.4" transform="rotate(-75 266.0 292.2)" fill="#768c5e" opacity="0.6"/>
<ellipse cx="341.2" cy="375.4" rx="9.2" ry="2.3" transform="rotate(-4 341.2 375.4)" fill="#768c5e" opacity="0.6"/>
<ellipse cx="326.4" cy="325.7" rx="13.4" ry="2.1" transform="rotate(-29 326.4 325.7)" fill="#768c5e" opacity="0.6"/>
<ellipse cx="335.0" cy="368.6" rx="10.8" ry="2.2" transform="rotate(-23 335.0 368.6)" fill="#768c5e" opacity="0.6"/>
<ellipse cx="230.2" cy="292.9" rx="14.1" ry="3.2" transform="rotate(-61 230.2 292.9)" fill="#768c5e" opacity="0.6"/>
<ellipse cx="242.7" cy="381.4" rx="16.0" ry="2.2" transform="rotate(-69 242.7 381.4)" fill="#768c5e" opacity="0.6"/>
<ellipse cx="365.6" cy="313.8" rx="12.2" ry="3.0" transform="rotate(-23 365.6 313.8)" fill="#768c5e" opacity="0.6"/>
<ellipse cx="363.9" cy="396.5" rx="17.2" ry="3.3" transform="rotate(-24 363.9 396.5)" fill="#768c5e" opacity="0.6"/>
<ellipse cx="277.1" cy="395.2" rx="11.4" ry="2.9" transform="rotate(-63 277.1 395.2)" fill="#768c5e" opacity="0.6"/>
<ellipse cx="235.6" cy="295.6" rx="14.5" ry="1.9" transform="rotate(-64 235.6 295.6)" fill="#768c5e" opacity="0.6"/>
<ellipse cx="271.2" cy="332.5" rx="10.3" ry="2.1" transform="rotate(-51 271.2 332.5)" fill="#768c5e" opacity="0.6"/>
<ellipse cx="224.5" cy="354.5" rx="15.9" ry="1.9" transform="rotate(-55 224.5 354.5)" fill="#768c5e" opacity="0.6"/>
<ellipse cx="253.4" cy="309.0" rx="15.2" ry="3.2" transform="rotate(-70 253.4 309.0)" fill="#768c5e" opacity="0.6"/>
<ellipse cx="251.2" cy="350.6" rx="9.6" ry="1.9" transform="rotate(-76 251.2 350.6)" fill="#768c5e" opacity="0.6"/>
<ellipse cx="230.2" cy="363.3" rx="13.3" ry="2.4" transform="rotate(-68 230.2 363.3)" fill="#768c5e" opacity="0.6"/>
<ellipse cx="275.1" cy="379.6" rx="16.5" ry="2.7" transform="rotate(-55 275.1 379.6)" fill="#768c5e" opacity="0.6"/>
<ellipse cx="268.7" cy="366.9" rx="13.2" ry="3.0" transform="rotate(-51 268.7 366.9)" fill="#768c5e" opacity="0.6"/>
<ellipse cx="327.9" cy="306.4" rx="18.0" ry="3.3" transform="rotate(-44 327.9 306.4)" fill="#768c5e" opacity="0.6"/>
<ellipse cx="297.9" cy="334.1" rx="16.2" ry="3.2" transform="rotate(-71 297.9 334.1)" fill="#768c5e" opacity="0.6"/>
<ellipse cx="327.3" cy="315.6" rx="16.8" ry="2.5" transform="rotate(-40 327.3 315.6)" fill="#768c5e" opacity="0.6"/>
<ellipse cx="311.0" cy="322.3" rx="11.9" ry="1.9" transform="rotate(-36 311.0 322.3)" fill="#768c5e" opacity="0.6"/>
<ellipse cx="271.3" cy="299.3" rx="13.4" ry="3.5" transform="rotate(-75 271.3 299.3)" fill="#768c5e" opacity="0.6"/>
<ellipse cx="309.3" cy="315.4" rx="16.4" ry="2.2" transform="rotate(-28 309.3 315.4)" fill="#768c5e" opacity="0.6"/>
<ellipse cx="334.9" cy="310.8" rx="10.5" ry="2.0" transform="rotate(-49 334.9 310.8)" fill="#768c5e" opacity="0.6"/>
<ellipse cx="359.6" cy="297.5" rx="15.9" ry="2.2" transform="rotate(-37 359.6 297.5)" fill="#768c5e" opacity="0.6"/>
<ellipse cx="341.5" cy="406.3" rx="17.6" ry="2.5" transform="rotate(-24 341.5 406.3)" fill="#768c5e" opacity="0.6"/>
<ellipse cx="324.5" cy="385.7" rx="14.7" ry="2.4" transform="rotate(-18 324.5 385.7)" fill="#768c5e" opacity="0.6"/>
<ellipse cx="244.0" cy="325.9" rx="12.1" ry="2.0" transform="rotate(-74 244.0 325.9)" fill="#768c5e" opacity="0.6"/>
<ellipse cx="273.2" cy="353.4" rx="10.8" ry="3.3" transform="rotate(-51 273.2 353.4)" fill="#768c5e" opacity="0.6"/>
<ellipse cx="367.6" cy="348.9" rx="17.0" ry="3.2" transform="rotate(-23 367.6 348.9)" fill="#768c5e" opacity="0.6"/>
<ellipse cx="375.4" cy="307.5" rx="12.4" ry="2.9" transform="rotate(-28 375.4 307.5)" fill="#768c5e" opacity="0.6"/>
<ellipse cx="372.3" cy="399.1" rx="15.6" ry="3.1" transform="rotate(-24 372.3 399.1)" fill="#768c5e" opacity="0.6"/>
<ellipse cx="311.6" cy="350.8" rx="14.6" ry="2.5" transform="rotate(-26 311.6 350.8)" fill="#768c5e" opacity="0.6"/>
<ellipse cx="336.9" cy="326.9" rx="17.9" ry="2.5" transform="rotate(-24 336.9 326.9)" fill="#768c5e" opacity="0.6"/>
<ellipse cx="344.9" cy="306.8" rx="9.9" ry="2.2" transform="rotate(-46 344.9 306.8)" fill="#768c5e" opacity="0.6"/>
<ellipse cx="293.5" cy="353.3" rx="10.8" ry="2.2" transform="rotate(-54 293.5 353.3)" fill="#768c5e" opacity="0.6"/>
<ellipse cx="341.9" cy="354.8" rx="16.2" ry="2.0" transform="rotate(-4 341.9 354.8)" fill="#768c5e" opacity="0.6"/>
<ellipse cx="318.0" cy="293.7" rx="13.2" ry="2.6" transform="rotate(-26 318.0 293.7)" fill="#768c5e" opacity="0.6"/>
<ellipse cx="254.2" cy="368.9" rx="9.1" ry="2.3" transform="rotate(-67 254.2 368.9)" fill="#768c5e" opacity="0.6"/>
<ellipse cx="312.8" cy="294.9" rx="11.3" ry="2.4" transform="rotate(-40 312.8 294.9)" fill="#768c5e" opacity="0.6"/>
<ellipse cx="357.2" cy="380.8" rx="9.6" ry="2.2" transform="rotate(-22 357.2 380.8)" fill="#768c5e" opacity="0.6"/>
<ellipse cx="277.0" cy="373.0" rx="14.2" ry="2.2" transform="rotate(-73 277.0 373.0)" fill="#768c5e" opacity="0.6"/>
<ellipse cx="254.4" cy="338.9" rx="14.8" ry="2.4" transform="rotate(-73 254.4 338.9)" fill="#768c5e" opacity="0.6"/>
<ellipse cx="326.8" cy="318.9" rx="10.2" ry="3.3" transform="rotate(-36 326.8 318.9)" fill="#768c5e" opacity="0.6"/>
<ellipse cx="240.0" cy="367.6" rx="10.9" ry="3.1" transform="rotate(-66 240.0 367.6)" fill="#768c5e" opacity="0.6"/>
<ellipse cx="369.3" cy="292.7" rx="13.2" ry="2.4" transform="rotate(-28 369.3 292.7)" fill="#768c5e" opacity="0.6"/>
<ellipse cx="290.3" cy="317.1" rx="10.0" ry="1.9" transform="rotate(-64 290.3 317.1)" fill="#768c5e" opacity="0.6"/>
<ellipse cx="300.1" cy="388.0" rx="9.9" ry="3.1" transform="rotate(-14 300.1 388.0)" fill="#768c5e" opacity="0.6"/>
<ellipse cx="342.7" cy="304.1" rx="9.1" ry="3.3" transform="rotate(-34 342.7 304.1)" fill="#768c5e" opacity="0.6"/>
<ellipse cx="238.4" cy="407.9" rx="9.6" ry="2.2" transform="rotate(-63 238.4 407.9)" fill="#768c5e" opacity="0.6"/>
<ellipse cx="295.4" cy="406.8" rx="10.5" ry="1.9" transform="rotate(-62 295.4 406.8)" fill="#768c5e" opacity="0.6"/>
<ellipse cx="304.3" cy="338.0" rx="16.8" ry="3.4" transform="rotate(-29 304.3 338.0)" fill="#768c5e" opacity="0.6"/>
<ellipse cx="281.6" cy="324.7" rx="12.6" ry="2.6" transform="rotate(-61 281.6 324.7)" fill="#768c5e" opacity="0.6"/>
<ellipse cx="288.1" cy="395.7" rx="17.9" ry="2.7" transform="rotate(-74 288.1 395.7)" fill="#768c5e" opacity="0.6"/>
<ellipse cx="280.3" cy="340.7" rx="12.2" ry="2.5" transform="rotate(-66 280.3 340.7)" fill="#768c5e" opacity="0.6"/>
<ellipse cx="273.4" cy="386.6" rx="15.4" ry="1.8" transform="rotate(-60 273.4 386.6)" fill="#768c5e" opacity="0.6"/>
<ellipse cx="225.1" cy="360.0" rx="12.3" ry="2.8" transform="rotate(-51 225.1 360.0)" fill="#768c5e" opacity="0.6"/>
<ellipse cx="276.7" cy="391.0" rx="14.3" ry="3.2" transform="rotate(-74 276.7 391.0)" fill="#768c5e" opacity="0.6"/>
<ellipse cx="262.3" cy="293.8" rx="10.4" ry="2.2" transform="rotate(-76 262.3 293.8)" fill="#768c5e" opacity="0.6"/>
<ellipse cx="365.9" cy="365.4" rx="17.4" ry="3.1" transform="rotate(-26 365.9 365.4)" fill="#768c5e" opacity="0.6"/>
<ellipse cx="349.6" cy="310.4" rx="15.2" ry="2.0" transform="rotate(-47 349.6 310.4)" fill="#768c5e" opacity="0.6"/>
<ellipse cx="351.8" cy="402.9" rx="16.5" ry="3.0" transform="rotate(-18 351.8 402.9)" fill="#768c5e" opacity="0.6"/>
<ellipse cx="295.3" cy="357.7" rx="10.0" ry="0.91" transform="rotate(-52 295.3 357.7)" fill="#1e3a3a" opacity="0.78"/>
<ellipse cx="349.4" cy="374.9" rx="13.6" ry="0.63" transform="rotate(-26 349.4 374.9)" fill="#1e3a3a" opacity="0.51"/>
<ellipse cx="316.4" cy="383.8" rx="10.9" ry="0.93" transform="rotate(-19 316.4 383.8)" fill="#1e3a3a" opacity="0.66"/>
<ellipse cx="353.3" cy="375.7" rx="8.4" ry="0.65" transform="rotate(-19 353.3 375.7)" fill="#1e3a3a" opacity="0.60"/>
<ellipse cx="253.7" cy="398.8" rx="9.4" ry="0.99" transform="rotate(-78 253.7 398.8)" fill="#1e3a3a" opacity="0.59"/>
<ellipse cx="338.8" cy="302.5" rx="7.5" ry="0.82" transform="rotate(-41 338.8 302.5)" fill="#1e3a3a" opacity="0.57"/>
<ellipse cx="242.0" cy="365.5" rx="9.7" ry="0.90" transform="rotate(-77 242.0 365.5)" fill="#1e3a3a" opacity="0.85"/>
<ellipse cx="317.2" cy="360.3" rx="7.8" ry="0.75" transform="rotate(-26 317.2 360.3)" fill="#1e3a3a" opacity="0.53"/>
<ellipse cx="317.5" cy="336.0" rx="13.4" ry="0.68" transform="rotate(-34 317.5 336.0)" fill="#1e3a3a" opacity="0.82"/>
<ellipse cx="260.4" cy="311.3" rx="13.3" ry="0.81" transform="rotate(-58 260.4 311.3)" fill="#1e3a3a" opacity="0.54"/>
<ellipse cx="332.6" cy="322.4" rx="10.9" ry="0.66" transform="rotate(-21 332.6 322.4)" fill="#1e3a3a" opacity="0.67"/>
<ellipse cx="320.3" cy="301.0" rx="13.1" ry="0.63" transform="rotate(-43 320.3 301.0)" fill="#1e3a3a" opacity="0.56"/>
<ellipse cx="313.6" cy="308.3" rx="12.9" ry="0.84" transform="rotate(-37 313.6 308.3)" fill="#1e3a3a" opacity="0.63"/>
<ellipse cx="233.7" cy="297.3" rx="7.8" ry="1.05" transform="rotate(-71 233.7 297.3)" fill="#1e3a3a" opacity="0.76"/>
<ellipse cx="344.3" cy="394.8" rx="11.5" ry="0.85" transform="rotate(-18 344.3 394.8)" fill="#1e3a3a" opacity="0.51"/>
<ellipse cx="280.1" cy="291.1" rx="7.5" ry="0.79" transform="rotate(-78 280.1 291.1)" fill="#1e3a3a" opacity="0.76"/>
<ellipse cx="293.2" cy="389.3" rx="12.0" ry="0.95" transform="rotate(-77 293.2 389.3)" fill="#1e3a3a" opacity="0.67"/>
<ellipse cx="367.1" cy="322.1" rx="8.9" ry="0.77" transform="rotate(-50 367.1 322.1)" fill="#1e3a3a" opacity="0.83"/>
<ellipse cx="264.0" cy="338.7" rx="11.2" ry="0.89" transform="rotate(-72 264.0 338.7)" fill="#1e3a3a" opacity="0.61"/>
<ellipse cx="353.7" cy="371.9" rx="8.7" ry="1.02" transform="rotate(-3 353.7 371.9)" fill="#1e3a3a" opacity="0.63"/>
<ellipse cx="327.1" cy="376.8" rx="11.1" ry="0.94" transform="rotate(-6 327.1 376.8)" fill="#1e3a3a" opacity="0.60"/>
<ellipse cx="322.9" cy="354.5" rx="9.6" ry="0.62" transform="rotate(-11 322.9 354.5)" fill="#1e3a3a" opacity="0.72"/>
<ellipse cx="320.7" cy="370.2" rx="13.4" ry="0.96" transform="rotate(-7 320.7 370.2)" fill="#1e3a3a" opacity="0.76"/>
<ellipse cx="232.4" cy="318.6" rx="10.5" ry="1.05" transform="rotate(-57 232.4 318.6)" fill="#1e3a3a" opacity="0.53"/>
<ellipse cx="332.6" cy="302.6" rx="11.1" ry="0.85" transform="rotate(-34 332.6 302.6)" fill="#1e3a3a" opacity="0.79"/>
<ellipse cx="240.8" cy="393.3" rx="13.2" ry="1.09" transform="rotate(-56 240.8 393.3)" fill="#1e3a3a" opacity="0.69"/>
<ellipse cx="271.5" cy="396.3" rx="9.2" ry="0.74" transform="rotate(-54 271.5 396.3)" fill="#1e3a3a" opacity="0.82"/>
<ellipse cx="227.2" cy="351.6" rx="13.1" ry="1.07" transform="rotate(-59 227.2 351.6)" fill="#1e3a3a" opacity="0.53"/>
<ellipse cx="334.9" cy="362.7" rx="12.6" ry="1.04" transform="rotate(-14 334.9 362.7)" fill="#1e3a3a" opacity="0.71"/>
<ellipse cx="264.1" cy="348.1" rx="7.6" ry="0.86" transform="rotate(-68 264.1 348.1)" fill="#1e3a3a" opacity="0.64"/>
<ellipse cx="308.9" cy="345.5" rx="7.3" ry="0.80" transform="rotate(-26 308.9 345.5)" fill="#1e3a3a" opacity="0.59"/>
<ellipse cx="278.1" cy="398.0" rx="13.1" ry="1.06" transform="rotate(-52 278.1 398.0)" fill="#1e3a3a" opacity="0.55"/>
<ellipse cx="225.3" cy="312.2" rx="11.5" ry="0.85" transform="rotate(-73 225.3 312.2)" fill="#1e3a3a" opacity="0.70"/>
<ellipse cx="319.1" cy="372.9" rx="12.9" ry="0.87" transform="rotate(-9 319.1 372.9)" fill="#1e3a3a" opacity="0.80"/>
<ellipse cx="255.6" cy="314.6" rx="10.9" ry="0.76" transform="rotate(-64 255.6 314.6)" fill="#1e3a3a" opacity="0.82"/>
<ellipse cx="242.9" cy="317.2" rx="8.6" ry="0.70" transform="rotate(-58 242.9 317.2)" fill="#1e3a3a" opacity="0.72"/>
<ellipse cx="236.5" cy="356.4" rx="12.5" ry="0.69" transform="rotate(-69 236.5 356.4)" fill="#1e3a3a" opacity="0.52"/>
<ellipse cx="303.6" cy="359.0" rx="8.1" ry="0.65" transform="rotate(-23 303.6 359.0)" fill="#1e3a3a" opacity="0.52"/>
<ellipse cx="292.2" cy="379.3" rx="10.0" ry="0.92" transform="rotate(-70 292.2 379.3)" fill="#1e3a3a" opacity="0.51"/>
<ellipse cx="277.9" cy="397.3" rx="7.5" ry="0.95" transform="rotate(-62 277.9 397.3)" fill="#1e3a3a" opacity="0.80"/>
<ellipse cx="283.0" cy="359.4" rx="13.6" ry="0.97" transform="rotate(-65 283.0 359.4)" fill="#1e3a3a" opacity="0.56"/>
<ellipse cx="246.6" cy="330.0" rx="9.4" ry="0.64" transform="rotate(-64 246.6 330.0)" fill="#1e3a3a" opacity="0.62"/>
<ellipse cx="223.7" cy="330.9" rx="11.1" ry="0.88" transform="rotate(-61 223.7 330.9)" fill="#1e3a3a" opacity="0.69"/>
<ellipse cx="377.6" cy="369.2" rx="12.1" ry="0.72" transform="rotate(-9 377.6 369.2)" fill="#1e3a3a" opacity="0.66"/>
<ellipse cx="339.5" cy="364.5" rx="8.6" ry="1.08" transform="rotate(-27 339.5 364.5)" fill="#1e3a3a" opacity="0.70"/>
<ellipse cx="322.9" cy="388.3" rx="10.9" ry="0.79" transform="rotate(-25 322.9 388.3)" fill="#1e3a3a" opacity="0.84"/>
<ellipse cx="306.3" cy="358.2" rx="10.2" ry="0.74" transform="rotate(-16 306.3 358.2)" fill="#1e3a3a" opacity="0.73"/>
<ellipse cx="269.4" cy="375.3" rx="6.9" ry="0.94" transform="rotate(-71 269.4 375.3)" fill="#1e3a3a" opacity="0.52"/>
<ellipse cx="333.5" cy="324.9" rx="8.4" ry="0.86" transform="rotate(-22 333.5 324.9)" fill="#1e3a3a" opacity="0.83"/>
<ellipse cx="294.0" cy="404.4" rx="11.0" ry="0.63" transform="rotate(-55 294.0 404.4)" fill="#1e3a3a" opacity="0.68"/>
<ellipse cx="296.5" cy="322.4" rx="9.7" ry="0.72" transform="rotate(-63 296.5 322.4)" fill="#1e3a3a" opacity="0.54"/>
<ellipse cx="344.9" cy="366.6" rx="8.7" ry="0.69" transform="rotate(-18 344.9 366.6)" fill="#1e3a3a" opacity="0.59"/>
<ellipse cx="363.1" cy="391.7" rx="7.3" ry="0.71" transform="rotate(-26 363.1 391.7)" fill="#1e3a3a" opacity="0.60"/>
<ellipse cx="361.9" cy="307.0" rx="13.6" ry="0.97" transform="rotate(-42 361.9 307.0)" fill="#1e3a3a" opacity="0.79"/>
<ellipse cx="320.2" cy="382.8" rx="9.7" ry="1.09" transform="rotate(-22 320.2 382.8)" fill="#1e3a3a" opacity="0.61"/>
<ellipse cx="337.6" cy="396.8" rx="9.4" ry="0.88" transform="rotate(-16 337.6 396.8)" fill="#1e3a3a" opacity="0.67"/>
<ellipse cx="272.6" cy="382.1" rx="8.3" ry="0.98" transform="rotate(-78 272.6 382.1)" fill="#1e3a3a" opacity="0.61"/>
<ellipse cx="255.3" cy="366.8" rx="13.0" ry="1.07" transform="rotate(-70 255.3 366.8)" fill="#1e3a3a" opacity="0.82"/>
<ellipse cx="349.0" cy="328.6" rx="9.6" ry="0.61" transform="rotate(-39 349.0 328.6)" fill="#1e3a3a" opacity="0.74"/>
<ellipse cx="346.4" cy="379.1" rx="9.5" ry="1.04" transform="rotate(-18 346.4 379.1)" fill="#1e3a3a" opacity="0.60"/>
<ellipse cx="310.5" cy="402.2" rx="12.3" ry="0.64" transform="rotate(-11 310.5 402.2)" fill="#1e3a3a" opacity="0.76"/>
<ellipse cx="239.8" cy="365.5" rx="11.9" ry="1.05" transform="rotate(-76 239.8 365.5)" fill="#1e3a3a" opacity="0.62"/>
<ellipse cx="280.1" cy="386.1" rx="7.8" ry="0.81" transform="rotate(-70 280.1 386.1)" fill="#1e3a3a" opacity="0.79"/>
<ellipse cx="355.0" cy="388.5" rx="12.9" ry="1.00" transform="rotate(-6 355.0 388.5)" fill="#1e3a3a" opacity="0.65"/>
<ellipse cx="247.9" cy="378.8" rx="9.4" ry="0.74" transform="rotate(-50 247.9 378.8)" fill="#1e3a3a" opacity="0.81"/>
<ellipse cx="333.5" cy="323.4" rx="13.1" ry="1.00" transform="rotate(-45 333.5 323.4)" fill="#1e3a3a" opacity="0.61"/>
<ellipse cx="314.0" cy="342.9" rx="9.9" ry="0.76" transform="rotate(-32 314.0 342.9)" fill="#1e3a3a" opacity="0.69"/>
<ellipse cx="299.2" cy="322.1" rx="13.1" ry="0.62" transform="rotate(-53 299.2 322.1)" fill="#1e3a3a" opacity="0.83"/>
<ellipse cx="286.0" cy="353.8" rx="8.7" ry="1.05" transform="rotate(-65 286.0 353.8)" fill="#1e3a3a" opacity="0.66"/>
<ellipse cx="290.7" cy="381.9" rx="13.1" ry="0.73" transform="rotate(-76 290.7 381.9)" fill="#1e3a3a" opacity="0.69"/>
<ellipse cx="349.9" cy="392.1" rx="7.4" ry="0.64" transform="rotate(-6 349.9 392.1)" fill="#1e3a3a" opacity="0.76"/>
<ellipse cx="299.4" cy="290.1" rx="8.2" ry="0.86" transform="rotate(-43 299.4 290.1)" fill="#1e3a3a" opacity="0.56"/>
<ellipse cx="274.2" cy="327.2" rx="8.9" ry="0.65" transform="rotate(-78 274.2 327.2)" fill="#1e3a3a" opacity="0.64"/>
<ellipse cx="371.5" cy="385.5" rx="6.9" ry="0.83" transform="rotate(-11 371.5 385.5)" fill="#1e3a3a" opacity="0.50"/>
<ellipse cx="345.2" cy="312.3" rx="8.8" ry="0.88" transform="rotate(-28 345.2 312.3)" fill="#1e3a3a" opacity="0.53"/>
<ellipse cx="269.1" cy="321.3" rx="11.2" ry="0.65" transform="rotate(-66 269.1 321.3)" fill="#1e3a3a" opacity="0.74"/>
<ellipse cx="253.1" cy="338.6" rx="10.9" ry="0.82" transform="rotate(-55 253.1 338.6)" fill="#1e3a3a" opacity="0.77"/>
<ellipse cx="242.8" cy="313.6" rx="11.6" ry="0.91" transform="rotate(-76 242.8 313.6)" fill="#1e3a3a" opacity="0.61"/>
<ellipse cx="259.6" cy="405.4" rx="8.6" ry="0.79" transform="rotate(-64 259.6 405.4)" fill="#1e3a3a" opacity="0.68"/>
<ellipse cx="351.6" cy="365.2" rx="12.1" ry="0.67" transform="rotate(-23 351.6 365.2)" fill="#1e3a3a" opacity="0.75"/>
<ellipse cx="303.3" cy="377.8" rx="8.2" ry="0.84" transform="rotate(-6 303.3 377.8)" fill="#1e3a3a" opacity="0.65"/>
<ellipse cx="266.7" cy="395.1" rx="11.8" ry="1.05" transform="rotate(-66 266.7 395.1)" fill="#1e3a3a" opacity="0.85"/>
<ellipse cx="317.2" cy="307.6" rx="8.8" ry="0.68" transform="rotate(-21 317.2 307.6)" fill="#1e3a3a" opacity="0.71"/>
<ellipse cx="296.4" cy="339.5" rx="13.2" ry="0.97" transform="rotate(-57 296.4 339.5)" fill="#1e3a3a" opacity="0.63"/>
<ellipse cx="345.6" cy="290.5" rx="10.0" ry="0.77" transform="rotate(-43 345.6 290.5)" fill="#1e3a3a" opacity="0.55"/>
<ellipse cx="344.3" cy="377.8" rx="9.6" ry="0.91" transform="rotate(-7 344.3 377.8)" fill="#1e3a3a" opacity="0.74"/>
<ellipse cx="338.2" cy="344.2" rx="12.6" ry="0.66" transform="rotate(-15 338.2 344.2)" fill="#1e3a3a" opacity="0.83"/>
<ellipse cx="225.3" cy="396.2" rx="11.1" ry="0.75" transform="rotate(-71 225.3 396.2)" fill="#1e3a3a" opacity="0.71"/>
<ellipse cx="302.9" cy="338.6" rx="11.6" ry="1.07" transform="rotate(-48 302.9 338.6)" fill="#1e3a3a" opacity="0.81"/>
<ellipse cx="336.6" cy="395.4" rx="10.6" ry="0.88" transform="rotate(-18 336.6 395.4)" fill="#1e3a3a" opacity="0.82"/>
<ellipse cx="305.2" cy="400.2" rx="8.5" ry="0.83" transform="rotate(-27 305.2 400.2)" fill="#1e3a3a" opacity="0.69"/>
<ellipse cx="269.0" cy="343.0" rx="9.1" ry="1.03" transform="rotate(-71 269.0 343.0)" fill="#1e3a3a" opacity="0.74"/>
<ellipse cx="362.9" cy="294.3" rx="11.6" ry="0.63" transform="rotate(-28 362.9 294.3)" fill="#1e3a3a" opacity="0.54"/>
<ellipse cx="270.3" cy="395.1" rx="11.7" ry="1.03" transform="rotate(-54 270.3 395.1)" fill="#1e3a3a" opacity="0.54"/>
<ellipse cx="267.2" cy="375.9" rx="8.9" ry="0.75" transform="rotate(-65 267.2 375.9)" fill="#1e3a3a" opacity="0.82"/>
<ellipse cx="268.8" cy="366.1" rx="13.6" ry="0.90" transform="rotate(-77 268.8 366.1)" fill="#1e3a3a" opacity="0.60"/>
<ellipse cx="270.2" cy="380.0" rx="8.7" ry="1.05" transform="rotate(-73 270.2 380.0)" fill="#1e3a3a" opacity="0.72"/>
<ellipse cx="312.9" cy="288.6" rx="7.3" ry="0.62" transform="rotate(-19 312.9 288.6)" fill="#1e3a3a" opacity="0.60"/>
<ellipse cx="321.5" cy="408.8" rx="10.5" ry="0.93" transform="rotate(-8 321.5 408.8)" fill="#1e3a3a" opacity="0.69"/>
<ellipse cx="265.5" cy="355.5" rx="11.0" ry="0.89" transform="rotate(-54 265.5 355.5)" fill="#1e3a3a" opacity="0.81"/>
<ellipse cx="302.8" cy="342.5" rx="8.6" ry="0.92" transform="rotate(-67 302.8 342.5)" fill="#1e3a3a" opacity="0.70"/>
<ellipse cx="317.5" cy="293.8" rx="11.6" ry="0.93" transform="rotate(-35 317.5 293.8)" fill="#1e3a3a" opacity="0.68"/>
<ellipse cx="259.8" cy="347.4" rx="10.9" ry="0.71" transform="rotate(-60 259.8 347.4)" fill="#1e3a3a" opacity="0.84"/>
<ellipse cx="375.9" cy="308.6" rx="11.9" ry="0.65" transform="rotate(-34 375.9 308.6)" fill="#1e3a3a" opacity="0.69"/>
<ellipse cx="367.7" cy="408.1" rx="11.7" ry="1.03" transform="rotate(-10 367.7 408.1)" fill="#1e3a3a" opacity="0.65"/>
<ellipse cx="369.8" cy="401.5" rx="7.9" ry="1.06" transform="rotate(-22 369.8 401.5)" fill="#1e3a3a" opacity="0.81"/>
<ellipse cx="253.0" cy="393.0" rx="8.3" ry="0.69" transform="rotate(-52 253.0 393.0)" fill="#1e3a3a" opacity="0.69"/>
<ellipse cx="292.9" cy="325.2" rx="13.6" ry="0.64" transform="rotate(-67 292.9 325.2)" fill="#1e3a3a" opacity="0.74"/>
<ellipse cx="268.4" cy="292.8" rx="8.6" ry="0.68" transform="rotate(-75 268.4 292.8)" fill="#1e3a3a" opacity="0.83"/>
<ellipse cx="341.0" cy="373.1" rx="7.0" ry="0.79" transform="rotate(-4 341.0 373.1)" fill="#1e3a3a" opacity="0.59"/>
<ellipse cx="327.4" cy="327.5" rx="10.2" ry="0.81" transform="rotate(-29 327.4 327.5)" fill="#1e3a3a" opacity="0.69"/>
<ellipse cx="334.1" cy="366.6" rx="8.2" ry="1.03" transform="rotate(-23 334.1 366.6)" fill="#1e3a3a" opacity="0.58"/>
<ellipse cx="227.5" cy="291.4" rx="10.7" ry="1.03" transform="rotate(-61 227.5 291.4)" fill="#1e3a3a" opacity="0.70"/>
<ellipse cx="240.6" cy="380.6" rx="12.2" ry="0.84" transform="rotate(-69 240.6 380.6)" fill="#1e3a3a" opacity="0.83"/>
<ellipse cx="366.8" cy="316.6" rx="9.2" ry="1.00" transform="rotate(-23 366.8 316.6)" fill="#1e3a3a" opacity="0.67"/>
<ellipse cx="362.6" cy="393.4" rx="13.1" ry="0.89" transform="rotate(-24 362.6 393.4)" fill="#1e3a3a" opacity="0.66"/>
<ellipse cx="279.7" cy="396.6" rx="8.6" ry="0.77" transform="rotate(-63 279.7 396.6)" fill="#1e3a3a" opacity="0.81"/>
<ellipse cx="237.2" cy="296.5" rx="11.0" ry="0.79" transform="rotate(-64 237.2 296.5)" fill="#1e3a3a" opacity="0.82"/>
<ellipse cx="272.8" cy="333.8" rx="7.9" ry="0.86" transform="rotate(-51 272.8 333.8)" fill="#1e3a3a" opacity="0.82"/>
<ellipse cx="223.0" cy="353.5" rx="12.1" ry="0.61" transform="rotate(-55 223.0 353.5)" fill="#1e3a3a" opacity="0.78"/>
<ellipse cx="250.4" cy="307.9" rx="11.6" ry="0.97" transform="rotate(-70 250.4 307.9)" fill="#1e3a3a" opacity="0.69"/>
<ellipse cx="253.0" cy="351.1" rx="7.3" ry="1.02" transform="rotate(-76 253.0 351.1)" fill="#1e3a3a" opacity="0.68"/>
<ellipse cx="228.0" cy="362.5" rx="10.1" ry="0.80" transform="rotate(-68 228.0 362.5)" fill="#1e3a3a" opacity="0.75"/>
<ellipse cx="272.8" cy="378.0" rx="12.5" ry="0.97" transform="rotate(-55 272.8 378.0)" fill="#1e3a3a" opacity="0.59"/>
<ellipse cx="271.0" cy="368.8" rx="10.1" ry="0.73" transform="rotate(-51 271.0 368.8)" fill="#1e3a3a" opacity="0.73"/>
<ellipse cx="330.2" cy="308.7" rx="13.7" ry="1.10" transform="rotate(-44 330.2 308.7)" fill="#1e3a3a" opacity="0.54"/>
<ellipse cx="294.9" cy="333.0" rx="12.3" ry="0.80" transform="rotate(-71 294.9 333.0)" fill="#1e3a3a" opacity="0.55"/>
<ellipse cx="328.9" cy="317.5" rx="12.8" ry="1.04" transform="rotate(-40 328.9 317.5)" fill="#1e3a3a" opacity="0.65"/>
<ellipse cx="312.1" cy="323.8" rx="9.0" ry="0.63" transform="rotate(-36 312.1 323.8)" fill="#1e3a3a" opacity="0.52"/>
<ellipse cx="274.7" cy="300.2" rx="10.1" ry="0.62" transform="rotate(-75 274.7 300.2)" fill="#1e3a3a" opacity="0.62"/>
<ellipse cx="310.3" cy="317.3" rx="12.5" ry="1.10" transform="rotate(-28 310.3 317.3)" fill="#1e3a3a" opacity="0.66"/>
<ellipse cx="336.4" cy="312.0" rx="8.0" ry="0.88" transform="rotate(-49 336.4 312.0)" fill="#1e3a3a" opacity="0.52"/>
<ellipse cx="361.0" cy="299.3" rx="12.1" ry="0.80" transform="rotate(-37 361.0 299.3)" fill="#1e3a3a" opacity="0.78"/>
<ellipse cx="340.4" cy="404.1" rx="13.3" ry="0.61" transform="rotate(-24 340.4 404.1)" fill="#1e3a3a" opacity="0.70"/>
<ellipse cx="323.8" cy="383.4" rx="11.2" ry="0.90" transform="rotate(-18 323.8 383.4)" fill="#1e3a3a" opacity="0.59"/>
<ellipse cx="242.1" cy="325.4" rx="9.2" ry="0.60" transform="rotate(-74 242.1 325.4)" fill="#1e3a3a" opacity="0.68"/>
<ellipse cx="270.6" cy="351.3" rx="8.2" ry="0.89" transform="rotate(-51 270.6 351.3)" fill="#1e3a3a" opacity="0.61"/>
<ellipse cx="368.8" cy="351.8" rx="12.9" ry="0.76" transform="rotate(-23 368.8 351.8)" fill="#1e3a3a" opacity="0.56"/>
<ellipse cx="376.7" cy="310.0" rx="9.4" ry="0.82" transform="rotate(-28 376.7 310.0)" fill="#1e3a3a" opacity="0.75"/>
<ellipse cx="371.1" cy="396.3" rx="11.9" ry="0.79" transform="rotate(-24 371.1 396.3)" fill="#1e3a3a" opacity="0.58"/>
<ellipse cx="312.8" cy="353.1" rx="11.1" ry="0.68" transform="rotate(-26 312.8 353.1)" fill="#1e3a3a" opacity="0.66"/>
<ellipse cx="337.9" cy="329.2" rx="13.6" ry="0.66" transform="rotate(-24 337.9 329.2)" fill="#1e3a3a" opacity="0.57"/>
<ellipse cx="343.3" cy="305.3" rx="7.6" ry="0.96" transform="rotate(-46 343.3 305.3)" fill="#1e3a3a" opacity="0.59"/>
<ellipse cx="295.3" cy="354.6" rx="8.2" ry="0.99" transform="rotate(-54 295.3 354.6)" fill="#1e3a3a" opacity="0.67"/>
<ellipse cx="341.8" cy="352.8" rx="12.3" ry="1.06" transform="rotate(-4 341.8 352.8)" fill="#1e3a3a" opacity="0.83"/>
<ellipse cx="319.1" cy="296.0" rx="10.0" ry="0.91" transform="rotate(-26 319.1 296.0)" fill="#1e3a3a" opacity="0.81"/>
<ellipse cx="252.0" cy="368.0" rx="6.9" ry="0.93" transform="rotate(-67 252.0 368.0)" fill="#1e3a3a" opacity="0.57"/>
<ellipse cx="311.3" cy="293.1" rx="8.6" ry="0.63" transform="rotate(-40 311.3 293.1)" fill="#1e3a3a" opacity="0.57"/>
<ellipse cx="356.3" cy="378.8" rx="7.3" ry="0.83" transform="rotate(-22 356.3 378.8)" fill="#1e3a3a" opacity="0.68"/>
<ellipse cx="274.8" cy="372.4" rx="10.8" ry="0.92" transform="rotate(-73 274.8 372.4)" fill="#1e3a3a" opacity="0.58"/>
<ellipse cx="252.1" cy="338.2" rx="11.2" ry="1.08" transform="rotate(-73 252.1 338.2)" fill="#1e3a3a" opacity="0.60"/>
<ellipse cx="324.9" cy="316.2" rx="7.7" ry="0.65" transform="rotate(-36 324.9 316.2)" fill="#1e3a3a" opacity="0.81"/>
<ellipse cx="242.8" cy="368.8" rx="8.3" ry="0.93" transform="rotate(-66 242.8 368.8)" fill="#1e3a3a" opacity="0.62"/>
<ellipse cx="368.2" cy="290.6" rx="10.0" ry="0.93" transform="rotate(-28 368.2 290.6)" fill="#1e3a3a" opacity="0.52"/>
<ellipse cx="288.6" cy="316.3" rx="7.6" ry="1.07" transform="rotate(-64 288.6 316.3)" fill="#1e3a3a" opacity="0.68"/>
<ellipse cx="300.9" cy="391.0" rx="7.5" ry="0.91" transform="rotate(-14 300.9 391.0)" fill="#1e3a3a" opacity="0.76"/>
<ellipse cx="344.5" cy="306.8" rx="6.9" ry="0.88" transform="rotate(-34 344.5 306.8)" fill="#1e3a3a" opacity="0.84"/>
<ellipse cx="240.4" cy="408.9" rx="7.3" ry="0.78" transform="rotate(-63 240.4 408.9)" fill="#1e3a3a" opacity="0.59"/>
<ellipse cx="297.1" cy="407.7" rx="8.0" ry="1.03" transform="rotate(-62 297.1 407.7)" fill="#1e3a3a" opacity="0.55"/>
<ellipse cx="302.7" cy="334.9" rx="12.7" ry="1.00" transform="rotate(-29 302.7 334.9)" fill="#1e3a3a" opacity="0.54"/>
<ellipse cx="283.9" cy="326.0" rx="9.6" ry="0.71" transform="rotate(-61 283.9 326.0)" fill="#1e3a3a" opacity="0.69"/>
<ellipse cx="290.8" cy="396.4" rx="13.6" ry="1.05" transform="rotate(-74 290.8 396.4)" fill="#1e3a3a" opacity="0.64"/>
<ellipse cx="278.0" cy="339.6" rx="9.3" ry="0.87" transform="rotate(-66 278.0 339.6)" fill="#1e3a3a" opacity="0.56"/>
<ellipse cx="271.8" cy="385.7" rx="11.7" ry="0.97" transform="rotate(-60 271.8 385.7)" fill="#1e3a3a" opacity="0.67"/>
<ellipse cx="222.9" cy="358.3" rx="9.3" ry="0.98" transform="rotate(-51 222.9 358.3)" fill="#1e3a3a" opacity="0.52"/>
<ellipse cx="273.7" cy="390.1" rx="10.9" ry="0.64" transform="rotate(-74 273.7 390.1)" fill="#1e3a3a" opacity="0.70"/>
<ellipse cx="260.1" cy="293.3" rx="7.9" ry="0.62" transform="rotate(-76 260.1 293.3)" fill="#1e3a3a" opacity="0.72"/>
<ellipse cx="367.2" cy="368.1" rx="13.2" ry="0.77" transform="rotate(-26 367.2 368.1)" fill="#1e3a3a" opacity="0.72"/>
<ellipse cx="348.2" cy="309.0" rx="11.5" ry="0.82" transform="rotate(-47 348.2 309.0)" fill="#1e3a3a" opacity="0.81"/>
<ellipse cx="352.8" cy="405.7" rx="12.5" ry="0.93" transform="rotate(-18 352.8 405.7)" fill="#1e3a3a" opacity="0.54"/>
<ellipse cx="293.2" cy="356.1" rx="5.2" ry="1.3" transform="rotate(-52 293.2 356.1)" fill="#22444a" opacity="0.65"/>
<ellipse cx="315.7" cy="381.8" rx="8.0" ry="2.2" transform="rotate(-19 315.7 381.8)" fill="#22444a" opacity="0.65"/>
<ellipse cx="352.6" cy="373.5" rx="4.1" ry="1.9" transform="rotate(-19 352.6 373.5)" fill="#22444a" opacity="0.65"/>
<ellipse cx="256.7" cy="399.4" rx="5.3" ry="2.2" transform="rotate(-78 256.7 399.4)" fill="#22444a" opacity="0.65"/>
<ellipse cx="244.0" cy="366.0" rx="4.7" ry="2.2" transform="rotate(-77 244.0 366.0)" fill="#22444a" opacity="0.65"/>
<ellipse cx="316.1" cy="358.1" rx="6.3" ry="1.4" transform="rotate(-26 316.1 358.1)" fill="#22444a" opacity="0.65"/>
<ellipse cx="262.2" cy="312.4" rx="7.9" ry="1.4" transform="rotate(-58 262.2 312.4)" fill="#22444a" opacity="0.65"/>
<ellipse cx="311.5" cy="305.5" rx="4.1" ry="1.8" transform="rotate(-37 311.5 305.5)" fill="#22444a" opacity="0.65"/>
<ellipse cx="260.9" cy="337.8" rx="6.0" ry="2.0" transform="rotate(-72 260.9 337.8)" fill="#22444a" opacity="0.65"/>
<ellipse cx="334.5" cy="305.3" rx="5.3" ry="2.2" transform="rotate(-34 334.5 305.3)" fill="#22444a" opacity="0.65"/>
<ellipse cx="273.0" cy="397.4" rx="7.5" ry="1.6" transform="rotate(-54 273.0 397.4)" fill="#22444a" opacity="0.65"/>
<ellipse cx="229.4" cy="352.9" rx="6.1" ry="1.5" transform="rotate(-59 229.4 352.9)" fill="#22444a" opacity="0.65"/>
<ellipse cx="335.5" cy="365.4" rx="4.6" ry="1.7" transform="rotate(-14 335.5 365.4)" fill="#22444a" opacity="0.65"/>
<ellipse cx="257.4" cy="315.5" rx="8.0" ry="2.1" transform="rotate(-64 257.4 315.5)" fill="#22444a" opacity="0.65"/>
<ellipse cx="238.7" cy="357.2" rx="4.1" ry="1.8" transform="rotate(-69 238.7 357.2)" fill="#22444a" opacity="0.65"/>
<ellipse cx="294.7" cy="380.2" rx="5.6" ry="1.6" transform="rotate(-70 294.7 380.2)" fill="#22444a" opacity="0.65"/>
<ellipse cx="267.4" cy="374.6" rx="5.6" ry="1.8" transform="rotate(-71 267.4 374.6)" fill="#22444a" opacity="0.65"/>
<ellipse cx="295.7" cy="405.5" rx="5.8" ry="1.9" transform="rotate(-55 295.7 405.5)" fill="#22444a" opacity="0.65"/>
<ellipse cx="363.7" cy="309.0" rx="4.5" ry="2.0" transform="rotate(-42 363.7 309.0)" fill="#22444a" opacity="0.65"/>
<ellipse cx="345.8" cy="377.2" rx="6.1" ry="1.7" transform="rotate(-18 345.8 377.2)" fill="#22444a" opacity="0.65"/>
<ellipse cx="335.8" cy="325.8" rx="5.4" ry="1.8" transform="rotate(-45 335.8 325.8)" fill="#22444a" opacity="0.65"/>
<ellipse cx="282.9" cy="352.3" rx="5.7" ry="2.1" transform="rotate(-65 282.9 352.3)" fill="#22444a" opacity="0.65"/>
<ellipse cx="287.6" cy="381.1" rx="7.1" ry="1.2" transform="rotate(-76 287.6 381.1)" fill="#22444a" opacity="0.65"/>
<ellipse cx="346.3" cy="314.4" rx="5.5" ry="1.3" transform="rotate(-28 346.3 314.4)" fill="#22444a" opacity="0.65"/>
<ellipse cx="251.5" cy="337.5" rx="7.3" ry="2.1" transform="rotate(-55 251.5 337.5)" fill="#22444a" opacity="0.65"/>
<ellipse cx="303.0" cy="374.4" rx="4.4" ry="2.1" transform="rotate(-6 303.0 374.4)" fill="#22444a" opacity="0.65"/>
<ellipse cx="347.0" cy="291.9" rx="7.7" ry="1.3" transform="rotate(-43 347.0 291.9)" fill="#22444a" opacity="0.65"/>
<ellipse cx="339.0" cy="347.3" rx="6.1" ry="1.6" transform="rotate(-15 339.0 347.3)" fill="#22444a" opacity="0.65"/>
<ellipse cx="227.7" cy="397.1" rx="4.5" ry="1.6" transform="rotate(-71 227.7 397.1)" fill="#22444a" opacity="0.65"/>
<ellipse cx="335.8" cy="392.8" rx="7.2" ry="1.3" transform="rotate(-18 335.8 392.8)" fill="#22444a" opacity="0.65"/>
<ellipse cx="306.3" cy="402.2" rx="6.8" ry="1.4" transform="rotate(-27 306.3 402.2)" fill="#22444a" opacity="0.65"/>
<ellipse cx="270.9" cy="343.7" rx="5.3" ry="2.1" transform="rotate(-71 270.9 343.7)" fill="#22444a" opacity="0.65"/>
<ellipse cx="266.4" cy="365.5" rx="7.2" ry="1.3" transform="rotate(-77 266.4 365.5)" fill="#22444a" opacity="0.65"/>
<ellipse cx="321.1" cy="406.0" rx="6.9" ry="1.9" transform="rotate(-8 321.1 406.0)" fill="#22444a" opacity="0.65"/>
<ellipse cx="263.7" cy="354.2" rx="4.6" ry="1.2" transform="rotate(-54 263.7 354.2)" fill="#22444a" opacity="0.65"/>
<ellipse cx="262.0" cy="348.6" rx="6.0" ry="2.0" transform="rotate(-60 262.0 348.6)" fill="#22444a" opacity="0.65"/>
<ellipse cx="367.1" cy="404.7" rx="4.9" ry="1.5" transform="rotate(-10 367.1 404.7)" fill="#22444a" opacity="0.65"/>
<ellipse cx="251.1" cy="391.5" rx="4.8" ry="1.4" transform="rotate(-52 251.1 391.5)" fill="#22444a" opacity="0.65"/>
<ellipse cx="326.4" cy="325.7" rx="6.8" ry="1.5" transform="rotate(-29 326.4 325.7)" fill="#22444a" opacity="0.65"/>
<ellipse cx="335.0" cy="368.6" rx="5.4" ry="1.4" transform="rotate(-23 335.0 368.6)" fill="#22444a" opacity="0.65"/>
<ellipse cx="242.7" cy="381.4" rx="6.8" ry="1.4" transform="rotate(-69 242.7 381.4)" fill="#22444a" opacity="0.65"/>
<ellipse cx="365.6" cy="313.8" rx="7.4" ry="1.5" transform="rotate(-23 365.6 313.8)" fill="#22444a" opacity="0.65"/>
<ellipse cx="363.9" cy="396.5" rx="5.0" ry="1.2" transform="rotate(-24 363.9 396.5)" fill="#22444a" opacity="0.65"/>
<ellipse cx="277.1" cy="395.2" rx="6.8" ry="1.4" transform="rotate(-63 277.1 395.2)" fill="#22444a" opacity="0.65"/>
<ellipse cx="235.6" cy="295.6" rx="4.5" ry="1.7" transform="rotate(-64 235.6 295.6)" fill="#22444a" opacity="0.65"/>
<ellipse cx="224.5" cy="354.5" rx="5.6" ry="1.4" transform="rotate(-55 224.5 354.5)" fill="#22444a" opacity="0.65"/>
<ellipse cx="253.4" cy="309.0" rx="5.0" ry="1.5" transform="rotate(-70 253.4 309.0)" fill="#22444a" opacity="0.65"/>
<ellipse cx="230.2" cy="363.3" rx="6.9" ry="1.5" transform="rotate(-68 230.2 363.3)" fill="#22444a" opacity="0.65"/>
<ellipse cx="275.1" cy="379.6" rx="4.8" ry="1.8" transform="rotate(-55 275.1 379.6)" fill="#22444a" opacity="0.65"/>
<ellipse cx="327.9" cy="306.4" rx="4.1" ry="1.7" transform="rotate(-44 327.9 306.4)" fill="#22444a" opacity="0.65"/>
<ellipse cx="327.3" cy="315.6" rx="7.5" ry="1.5" transform="rotate(-40 327.3 315.6)" fill="#22444a" opacity="0.65"/>
<ellipse cx="341.5" cy="406.3" rx="5.6" ry="1.6" transform="rotate(-24 341.5 406.3)" fill="#22444a" opacity="0.65"/>
<ellipse cx="324.5" cy="385.7" rx="4.7" ry="1.2" transform="rotate(-18 324.5 385.7)" fill="#22444a" opacity="0.65"/>
<ellipse cx="293.5" cy="353.3" rx="7.2" ry="2.1" transform="rotate(-54 293.5 353.3)" fill="#22444a" opacity="0.65"/>
<ellipse cx="341.9" cy="354.8" rx="5.2" ry="1.6" transform="rotate(-4 341.9 354.8)" fill="#22444a" opacity="0.65"/>
<ellipse cx="254.2" cy="368.9" rx="7.1" ry="1.4" transform="rotate(-67 254.2 368.9)" fill="#22444a" opacity="0.65"/>
<ellipse cx="369.3" cy="292.7" rx="4.1" ry="2.0" transform="rotate(-28 369.3 292.7)" fill="#22444a" opacity="0.65"/>
<ellipse cx="300.1" cy="388.0" rx="7.2" ry="1.9" transform="rotate(-14 300.1 388.0)" fill="#22444a" opacity="0.65"/>
<ellipse cx="288.1" cy="395.7" rx="7.0" ry="1.5" transform="rotate(-74 288.1 395.7)" fill="#22444a" opacity="0.65"/>
<ellipse cx="273.4" cy="386.6" rx="5.6" ry="2.2" transform="rotate(-60 273.4 386.6)" fill="#22444a" opacity="0.65"/>
<ellipse cx="225.1" cy="360.0" rx="4.5" ry="2.0" transform="rotate(-51 225.1 360.0)" fill="#22444a" opacity="0.65"/>
<ellipse cx="276.7" cy="391.0" rx="5.6" ry="1.4" transform="rotate(-74 276.7 391.0)" fill="#22444a" opacity="0.65"/>
<ellipse cx="291.1" cy="354.4" rx="9.2" ry="0.46" transform="rotate(-52 291.1 354.4)" fill="#bccd9c" opacity="0.53"/>
<ellipse cx="346.4" cy="368.7" rx="12.5" ry="0.59" transform="rotate(-26 346.4 368.7)" fill="#bccd9c" opacity="0.64"/>
<ellipse cx="315.1" cy="379.8" rx="10.0" ry="0.59" transform="rotate(-19 315.1 379.8)" fill="#bccd9c" opacity="0.52"/>
<ellipse cx="351.8" cy="371.4" rx="7.7" ry="0.57" transform="rotate(-19 351.8 371.4)" fill="#bccd9c" opacity="0.39"/>
<ellipse cx="259.6" cy="400.0" rx="8.7" ry="0.42" transform="rotate(-78 259.6 400.0)" fill="#bccd9c" opacity="0.57"/>
<ellipse cx="341.2" cy="305.3" rx="6.9" ry="0.45" transform="rotate(-41 341.2 305.3)" fill="#bccd9c" opacity="0.55"/>
<ellipse cx="246.1" cy="366.5" rx="9.0" ry="0.66" transform="rotate(-77 246.1 366.5)" fill="#bccd9c" opacity="0.69"/>
<ellipse cx="315.0" cy="355.8" rx="7.2" ry="0.63" transform="rotate(-26 315.0 355.8)" fill="#bccd9c" opacity="0.47"/>
<ellipse cx="314.5" cy="331.7" rx="12.3" ry="0.66" transform="rotate(-34 314.5 331.7)" fill="#bccd9c" opacity="0.41"/>
<ellipse cx="263.9" cy="313.5" rx="12.2" ry="0.66" transform="rotate(-58 263.9 313.5)" fill="#bccd9c" opacity="0.56"/>
<ellipse cx="331.0" cy="318.2" rx="10.1" ry="0.68" transform="rotate(-21 331.0 318.2)" fill="#bccd9c" opacity="0.69"/>
<ellipse cx="316.2" cy="296.5" rx="12.1" ry="0.48" transform="rotate(-43 316.2 296.5)" fill="#bccd9c" opacity="0.51"/>
<ellipse cx="309.4" cy="302.8" rx="11.9" ry="0.58" transform="rotate(-37 309.4 302.8)" fill="#bccd9c" opacity="0.67"/>
<ellipse cx="237.2" cy="298.6" rx="7.2" ry="0.56" transform="rotate(-71 237.2 298.6)" fill="#bccd9c" opacity="0.61"/>
<ellipse cx="346.4" cy="401.1" rx="10.6" ry="0.68" transform="rotate(-18 346.4 401.1)" fill="#bccd9c" opacity="0.36"/>
<ellipse cx="283.9" cy="291.9" rx="6.9" ry="0.66" transform="rotate(-78 283.9 291.9)" fill="#bccd9c" opacity="0.60"/>
<ellipse cx="289.6" cy="388.5" rx="11.0" ry="0.54" transform="rotate(-77 289.6 388.5)" fill="#bccd9c" opacity="0.43"/>
<ellipse cx="362.6" cy="318.3" rx="8.2" ry="0.56" transform="rotate(-50 362.6 318.3)" fill="#bccd9c" opacity="0.61"/>
<ellipse cx="257.9" cy="336.8" rx="10.3" ry="0.66" transform="rotate(-72 257.9 336.8)" fill="#bccd9c" opacity="0.48"/>
<ellipse cx="354.0" cy="376.0" rx="8.0" ry="0.54" transform="rotate(-3 354.0 376.0)" fill="#bccd9c" opacity="0.67"/>
<ellipse cx="326.6" cy="372.2" rx="10.2" ry="0.48" transform="rotate(-6 326.6 372.2)" fill="#bccd9c" opacity="0.56"/>
<ellipse cx="323.7" cy="358.6" rx="8.9" ry="0.47" transform="rotate(-11 323.7 358.6)" fill="#bccd9c" opacity="0.40"/>
<ellipse cx="320.0" cy="364.4" rx="12.3" ry="0.65" transform="rotate(-7 320.0 364.4)" fill="#bccd9c" opacity="0.44"/>
<ellipse cx="226.7" cy="314.8" rx="9.7" ry="0.52" transform="rotate(-57 226.7 314.8)" fill="#bccd9c" opacity="0.63"/>
<ellipse cx="336.4" cy="308.1" rx="10.2" ry="0.57" transform="rotate(-34 336.4 308.1)" fill="#bccd9c" opacity="0.58"/>
<ellipse cx="237.5" cy="391.1" rx="12.1" ry="0.67" transform="rotate(-56 237.5 391.1)" fill="#bccd9c" opacity="0.69"/>
<ellipse cx="274.6" cy="398.5" rx="8.5" ry="0.50" transform="rotate(-54 274.6 398.5)" fill="#bccd9c" opacity="0.50"/>
<ellipse cx="231.6" cy="354.2" rx="12.1" ry="0.68" transform="rotate(-59 231.6 354.2)" fill="#bccd9c" opacity="0.52"/>
<ellipse cx="336.2" cy="368.0" rx="11.6" ry="0.60" transform="rotate(-14 336.2 368.0)" fill="#bccd9c" opacity="0.68"/>
<ellipse cx="267.4" cy="349.4" rx="7.0" ry="0.41" transform="rotate(-68 267.4 349.4)" fill="#bccd9c" opacity="0.69"/>
<ellipse cx="311.3" cy="350.4" rx="6.7" ry="0.68" transform="rotate(-26 311.3 350.4)" fill="#bccd9c" opacity="0.63"/>
<ellipse cx="273.9" cy="394.7" rx="12.1" ry="0.46" transform="rotate(-52 273.9 394.7)" fill="#bccd9c" opacity="0.57"/>
<ellipse cx="229.7" cy="313.6" rx="10.6" ry="0.47" transform="rotate(-73 229.7 313.6)" fill="#bccd9c" opacity="0.52"/>
<ellipse cx="319.7" cy="376.5" rx="11.8" ry="0.65" transform="rotate(-9 319.7 376.5)" fill="#bccd9c" opacity="0.57"/>
<ellipse cx="259.2" cy="316.4" rx="10.0" ry="0.67" transform="rotate(-64 259.2 316.4)" fill="#bccd9c" opacity="0.46"/>
<ellipse cx="246.1" cy="319.3" rx="7.9" ry="0.56" transform="rotate(-58 246.1 319.3)" fill="#bccd9c" opacity="0.60"/>
<ellipse cx="240.9" cy="358.1" rx="11.5" ry="0.55" transform="rotate(-69 240.9 358.1)" fill="#bccd9c" opacity="0.59"/>
<ellipse cx="301.9" cy="355.2" rx="7.5" ry="0.70" transform="rotate(-23 301.9 355.2)" fill="#bccd9c" opacity="0.67"/>
<ellipse cx="297.2" cy="381.1" rx="9.2" ry="0.46" transform="rotate(-70 297.2 381.1)" fill="#bccd9c" opacity="0.48"/>
<ellipse cx="283.4" cy="400.3" rx="6.9" ry="0.67" transform="rotate(-62 283.4 400.3)" fill="#bccd9c" opacity="0.63"/>
<ellipse cx="288.7" cy="362.1" rx="12.5" ry="0.48" transform="rotate(-65 288.7 362.1)" fill="#bccd9c" opacity="0.39"/>
<ellipse cx="242.1" cy="327.8" rx="8.6" ry="0.52" transform="rotate(-64 242.1 327.8)" fill="#bccd9c" opacity="0.60"/>
<ellipse cx="227.5" cy="333.0" rx="10.2" ry="0.50" transform="rotate(-61 227.5 333.0)" fill="#bccd9c" opacity="0.58"/>
<ellipse cx="376.4" cy="362.4" rx="11.1" ry="0.43" transform="rotate(-9 376.4 362.4)" fill="#bccd9c" opacity="0.39"/>
<ellipse cx="341.5" cy="368.5" rx="7.9" ry="0.57" transform="rotate(-27 341.5 368.5)" fill="#bccd9c" opacity="0.53"/>
<ellipse cx="320.3" cy="382.7" rx="10.1" ry="0.52" transform="rotate(-25 320.3 382.7)" fill="#bccd9c" opacity="0.68"/>
<ellipse cx="307.5" cy="362.6" rx="9.4" ry="0.58" transform="rotate(-16 307.5 362.6)" fill="#bccd9c" opacity="0.48"/>
<ellipse cx="265.3" cy="373.9" rx="6.4" ry="0.59" transform="rotate(-71 265.3 373.9)" fill="#bccd9c" opacity="0.49"/>
<ellipse cx="335.8" cy="330.5" rx="7.7" ry="0.69" transform="rotate(-22 335.8 330.5)" fill="#bccd9c" opacity="0.44"/>
<ellipse cx="297.3" cy="406.6" rx="10.1" ry="0.54" transform="rotate(-55 297.3 406.6)" fill="#bccd9c" opacity="0.42"/>
<ellipse cx="290.9" cy="319.5" rx="8.9" ry="0.69" transform="rotate(-63 290.9 319.5)" fill="#bccd9c" opacity="0.61"/>
<ellipse cx="343.1" cy="360.9" rx="8.0" ry="0.59" transform="rotate(-18 343.1 360.9)" fill="#bccd9c" opacity="0.61"/>
<ellipse cx="365.1" cy="395.7" rx="6.7" ry="0.41" transform="rotate(-26 365.1 395.7)" fill="#bccd9c" opacity="0.36"/>
<ellipse cx="365.4" cy="310.9" rx="12.5" ry="0.46" transform="rotate(-42 365.4 310.9)" fill="#bccd9c" opacity="0.47"/>
<ellipse cx="318.6" cy="378.7" rx="9.0" ry="0.51" transform="rotate(-22 318.6 378.7)" fill="#bccd9c" opacity="0.58"/>
<ellipse cx="338.7" cy="400.5" rx="8.6" ry="0.42" transform="rotate(-16 338.7 400.5)" fill="#bccd9c" opacity="0.38"/>
<ellipse cx="266.9" cy="380.9" rx="7.6" ry="0.61" transform="rotate(-78 266.9 380.9)" fill="#bccd9c" opacity="0.52"/>
<ellipse cx="259.6" cy="368.3" rx="12.0" ry="0.57" transform="rotate(-70 259.6 368.3)" fill="#bccd9c" opacity="0.67"/>
<ellipse cx="344.7" cy="323.3" rx="8.8" ry="0.43" transform="rotate(-39 344.7 323.3)" fill="#bccd9c" opacity="0.64"/>
<ellipse cx="345.2" cy="375.3" rx="8.8" ry="0.45" transform="rotate(-18 345.2 375.3)" fill="#bccd9c" opacity="0.62"/>
<ellipse cx="311.2" cy="405.9" rx="11.4" ry="0.64" transform="rotate(-11 311.2 405.9)" fill="#bccd9c" opacity="0.38"/>
<ellipse cx="234.2" cy="364.1" rx="11.0" ry="0.61" transform="rotate(-76 234.2 364.1)" fill="#bccd9c" opacity="0.52"/>
<ellipse cx="275.2" cy="384.4" rx="7.2" ry="0.61" transform="rotate(-70 275.2 384.4)" fill="#bccd9c" opacity="0.67"/>
<ellipse cx="354.2" cy="381.7" rx="11.9" ry="0.56" transform="rotate(-6 354.2 381.7)" fill="#bccd9c" opacity="0.60"/>
<ellipse cx="244.8" cy="376.2" rx="8.7" ry="0.52" transform="rotate(-50 244.8 376.2)" fill="#bccd9c" opacity="0.54"/>
<ellipse cx="338.2" cy="328.2" rx="12.1" ry="0.41" transform="rotate(-45 338.2 328.2)" fill="#bccd9c" opacity="0.52"/>
<ellipse cx="317.6" cy="348.5" rx="9.1" ry="0.45" transform="rotate(-32 317.6 348.5)" fill="#bccd9c" opacity="0.62"/>
<ellipse cx="295.5" cy="319.3" rx="12.1" ry="0.54" transform="rotate(-53 295.5 319.3)" fill="#bccd9c" opacity="0.43"/>
<ellipse cx="279.8" cy="350.8" rx="8.0" ry="0.67" transform="rotate(-65 279.8 350.8)" fill="#bccd9c" opacity="0.66"/>
<ellipse cx="284.5" cy="380.3" rx="12.0" ry="0.59" transform="rotate(-76 284.5 380.3)" fill="#bccd9c" opacity="0.70"/>
<ellipse cx="349.4" cy="387.6" rx="6.8" ry="0.67" transform="rotate(-6 349.4 387.6)" fill="#bccd9c" opacity="0.59"/>
<ellipse cx="303.4" cy="294.4" rx="7.5" ry="0.46" transform="rotate(-43 303.4 294.4)" fill="#bccd9c" opacity="0.54"/>
<ellipse cx="269.1" cy="326.1" rx="8.2" ry="0.51" transform="rotate(-78 269.1 326.1)" fill="#bccd9c" opacity="0.59"/>
<ellipse cx="372.4" cy="390.3" rx="6.4" ry="0.47" transform="rotate(-11 372.4 390.3)" fill="#bccd9c" opacity="0.55"/>
<ellipse cx="347.5" cy="316.5" rx="8.1" ry="0.69" transform="rotate(-28 347.5 316.5)" fill="#bccd9c" opacity="0.61"/>
<ellipse cx="273.7" cy="323.3" rx="10.3" ry="0.43" transform="rotate(-66 273.7 323.3)" fill="#bccd9c" opacity="0.40"/>
<ellipse cx="250.0" cy="336.4" rx="10.0" ry="0.41" transform="rotate(-55 250.0 336.4)" fill="#bccd9c" opacity="0.70"/>
<ellipse cx="247.8" cy="314.9" rx="10.7" ry="0.59" transform="rotate(-76 247.8 314.9)" fill="#bccd9c" opacity="0.60"/>
<ellipse cx="263.4" cy="407.2" rx="7.9" ry="0.60" transform="rotate(-64 263.4 407.2)" fill="#bccd9c" opacity="0.39"/>
<ellipse cx="349.0" cy="359.1" rx="11.1" ry="0.51" transform="rotate(-23 349.0 359.1)" fill="#bccd9c" opacity="0.53"/>
<ellipse cx="302.6" cy="371.0" rx="7.5" ry="0.63" transform="rotate(-6 302.6 371.0)" fill="#bccd9c" opacity="0.40"/>
<ellipse cx="262.7" cy="393.3" rx="10.9" ry="0.57" transform="rotate(-66 262.7 393.3)" fill="#bccd9c" opacity="0.44"/>
<ellipse cx="314.8" cy="301.4" rx="8.1" ry="0.63" transform="rotate(-21 314.8 301.4)" fill="#bccd9c" opacity="0.48"/>
<ellipse cx="290.6" cy="335.7" rx="12.2" ry="0.49" transform="rotate(-57 290.6 335.7)" fill="#bccd9c" opacity="0.58"/>
<ellipse cx="348.3" cy="293.4" rx="9.2" ry="0.44" transform="rotate(-43 348.3 293.4)" fill="#bccd9c" opacity="0.49"/>
<ellipse cx="343.6" cy="372.6" rx="8.8" ry="0.54" transform="rotate(-7 343.6 372.6)" fill="#bccd9c" opacity="0.49"/>
<ellipse cx="339.9" cy="350.5" rx="11.6" ry="0.65" transform="rotate(-15 339.9 350.5)" fill="#bccd9c" opacity="0.39"/>
<ellipse cx="230.1" cy="397.9" rx="10.2" ry="0.58" transform="rotate(-71 230.1 397.9)" fill="#bccd9c" opacity="0.61"/>
<ellipse cx="298.9" cy="335.0" rx="10.7" ry="0.56" transform="rotate(-48 298.9 335.0)" fill="#bccd9c" opacity="0.58"/>
<ellipse cx="335.0" cy="390.2" rx="9.7" ry="0.47" transform="rotate(-18 335.0 390.2)" fill="#bccd9c" opacity="0.61"/>
<ellipse cx="307.3" cy="404.2" rx="7.8" ry="0.45" transform="rotate(-27 307.3 404.2)" fill="#bccd9c" opacity="0.50"/>
<ellipse cx="272.7" cy="344.3" rx="8.3" ry="0.66" transform="rotate(-71 272.7 344.3)" fill="#bccd9c" opacity="0.42"/>
<ellipse cx="360.3" cy="289.5" rx="10.7" ry="0.46" transform="rotate(-28 360.3 289.5)" fill="#bccd9c" opacity="0.66"/>
<ellipse cx="273.5" cy="397.4" rx="10.8" ry="0.52" transform="rotate(-54 273.5 397.4)" fill="#bccd9c" opacity="0.41"/>
<ellipse cx="263.1" cy="374.0" rx="8.2" ry="0.58" transform="rotate(-65 263.1 374.0)" fill="#bccd9c" opacity="0.43"/>
<ellipse cx="263.9" cy="365.0" rx="12.5" ry="0.56" transform="rotate(-77 263.9 365.0)" fill="#bccd9c" opacity="0.37"/>
<ellipse cx="265.0" cy="378.4" rx="8.1" ry="0.64" transform="rotate(-73 265.0 378.4)" fill="#bccd9c" opacity="0.40"/>
<ellipse cx="314.1" cy="292.1" rx="6.7" ry="0.50" transform="rotate(-19 314.1 292.1)" fill="#bccd9c" opacity="0.52"/>
<ellipse cx="320.7" cy="403.3" rx="9.6" ry="0.43" transform="rotate(-8 320.7 403.3)" fill="#bccd9c" opacity="0.50"/>
<ellipse cx="261.9" cy="352.9" rx="10.1" ry="0.58" transform="rotate(-54 261.9 352.9)" fill="#bccd9c" opacity="0.60"/>
<ellipse cx="297.0" cy="340.0" rx="8.0" ry="0.43" transform="rotate(-67 297.0 340.0)" fill="#bccd9c" opacity="0.41"/>
<ellipse cx="321.2" cy="299.0" rx="10.7" ry="0.63" transform="rotate(-35 321.2 299.0)" fill="#bccd9c" opacity="0.52"/>
<ellipse cx="264.2" cy="349.9" rx="10.1" ry="0.52" transform="rotate(-60 264.2 349.9)" fill="#bccd9c" opacity="0.48"/>
<ellipse cx="373.9" cy="305.6" rx="11.0" ry="0.52" transform="rotate(-34 373.9 305.6)" fill="#bccd9c" opacity="0.53"/>
<ellipse cx="366.5" cy="401.2" rx="10.8" ry="0.49" transform="rotate(-10 366.5 401.2)" fill="#bccd9c" opacity="0.39"/>
<ellipse cx="367.8" cy="396.4" rx="7.3" ry="0.62" transform="rotate(-22 367.8 396.4)" fill="#bccd9c" opacity="0.55"/>
<ellipse cx="249.2" cy="390.0" rx="7.6" ry="0.46" transform="rotate(-52 249.2 390.0)" fill="#bccd9c" opacity="0.47"/>
<ellipse cx="298.3" cy="327.6" rx="12.6" ry="0.46" transform="rotate(-67 298.3 327.6)" fill="#bccd9c" opacity="0.48"/>
<ellipse cx="263.7" cy="291.5" rx="8.0" ry="0.48" transform="rotate(-75 263.7 291.5)" fill="#bccd9c" opacity="0.48"/>
<ellipse cx="341.3" cy="377.7" rx="6.4" ry="0.53" transform="rotate(-4 341.3 377.7)" fill="#bccd9c" opacity="0.65"/>
<ellipse cx="325.4" cy="323.8" rx="9.4" ry="0.41" transform="rotate(-29 325.4 323.8)" fill="#bccd9c" opacity="0.46"/>
<ellipse cx="335.9" cy="370.7" rx="7.6" ry="0.52" transform="rotate(-23 335.9 370.7)" fill="#bccd9c" opacity="0.49"/>
<ellipse cx="233.0" cy="294.4" rx="9.9" ry="0.60" transform="rotate(-61 233.0 294.4)" fill="#bccd9c" opacity="0.37"/>
<ellipse cx="244.7" cy="382.2" rx="11.2" ry="0.44" transform="rotate(-69 244.7 382.2)" fill="#bccd9c" opacity="0.52"/>
<ellipse cx="364.4" cy="311.1" rx="8.5" ry="0.62" transform="rotate(-23 364.4 311.1)" fill="#bccd9c" opacity="0.67"/>
<ellipse cx="365.3" cy="399.6" rx="12.0" ry="0.42" transform="rotate(-24 365.3 399.6)" fill="#bccd9c" opacity="0.52"/>
<ellipse cx="274.5" cy="393.9" rx="7.9" ry="0.59" transform="rotate(-63 274.5 393.9)" fill="#bccd9c" opacity="0.48"/>
<ellipse cx="233.9" cy="294.8" rx="10.2" ry="0.65" transform="rotate(-64 233.9 294.8)" fill="#bccd9c" opacity="0.66"/>
<ellipse cx="269.6" cy="331.2" rx="7.2" ry="0.48" transform="rotate(-51 269.6 331.2)" fill="#bccd9c" opacity="0.43"/>
<ellipse cx="226.1" cy="355.6" rx="11.1" ry="0.48" transform="rotate(-55 226.1 355.6)" fill="#bccd9c" opacity="0.39"/>
<ellipse cx="256.4" cy="310.1" rx="10.6" ry="0.51" transform="rotate(-70 256.4 310.1)" fill="#bccd9c" opacity="0.45"/>
<ellipse cx="249.4" cy="350.2" rx="6.7" ry="0.67" transform="rotate(-76 249.4 350.2)" fill="#bccd9c" opacity="0.46"/>
<ellipse cx="232.4" cy="364.2" rx="9.3" ry="0.55" transform="rotate(-68 232.4 364.2)" fill="#bccd9c" opacity="0.63"/>
<ellipse cx="277.3" cy="381.2" rx="11.5" ry="0.59" transform="rotate(-55 277.3 381.2)" fill="#bccd9c" opacity="0.39"/>
<ellipse cx="266.4" cy="365.1" rx="9.3" ry="0.48" transform="rotate(-51 266.4 365.1)" fill="#bccd9c" opacity="0.44"/>
<ellipse cx="325.6" cy="304.0" rx="12.6" ry="0.49" transform="rotate(-44 325.6 304.0)" fill="#bccd9c" opacity="0.61"/>
<ellipse cx="300.9" cy="335.1" rx="11.3" ry="0.47" transform="rotate(-71 300.9 335.1)" fill="#bccd9c" opacity="0.60"/>
<ellipse cx="325.6" cy="313.6" rx="11.8" ry="0.57" transform="rotate(-40 325.6 313.6)" fill="#bccd9c" opacity="0.66"/>
<ellipse cx="309.9" cy="320.8" rx="8.3" ry="0.51" transform="rotate(-36 309.9 320.8)" fill="#bccd9c" opacity="0.44"/>
<ellipse cx="268.0" cy="298.3" rx="9.3" ry="0.70" transform="rotate(-75 268.0 298.3)" fill="#bccd9c" opacity="0.49"/>
<ellipse cx="308.2" cy="313.4" rx="11.5" ry="0.68" transform="rotate(-28 308.2 313.4)" fill="#bccd9c" opacity="0.65"/>
<ellipse cx="333.4" cy="309.5" rx="7.4" ry="0.48" transform="rotate(-49 333.4 309.5)" fill="#bccd9c" opacity="0.36"/>
<ellipse cx="358.3" cy="295.8" rx="11.1" ry="0.64" transform="rotate(-37 358.3 295.8)" fill="#bccd9c" opacity="0.61"/>
<ellipse cx="342.5" cy="408.6" rx="12.3" ry="0.48" transform="rotate(-24 342.5 408.6)" fill="#bccd9c" opacity="0.67"/>
<ellipse cx="325.2" cy="387.9" rx="10.3" ry="0.42" transform="rotate(-18 325.2 387.9)" fill="#bccd9c" opacity="0.58"/>
<ellipse cx="245.9" cy="326.5" rx="8.5" ry="0.51" transform="rotate(-74 245.9 326.5)" fill="#bccd9c" opacity="0.50"/>
<ellipse cx="275.8" cy="355.4" rx="7.6" ry="0.42" transform="rotate(-51 275.8 355.4)" fill="#bccd9c" opacity="0.56"/>
<ellipse cx="366.4" cy="346.0" rx="11.9" ry="0.60" transform="rotate(-23 366.4 346.0)" fill="#bccd9c" opacity="0.68"/>
<ellipse cx="374.0" cy="304.9" rx="8.7" ry="0.58" transform="rotate(-28 374.0 304.9)" fill="#bccd9c" opacity="0.47"/>
<ellipse cx="373.6" cy="401.9" rx="11.0" ry="0.60" transform="rotate(-24 373.6 401.9)" fill="#bccd9c" opacity="0.50"/>
<ellipse cx="310.5" cy="348.5" rx="10.3" ry="0.58" transform="rotate(-26 310.5 348.5)" fill="#bccd9c" opacity="0.68"/>
<ellipse cx="335.9" cy="324.7" rx="12.5" ry="0.63" transform="rotate(-24 335.9 324.7)" fill="#bccd9c" opacity="0.66"/>
<ellipse cx="346.4" cy="308.3" rx="7.0" ry="0.42" transform="rotate(-46 346.4 308.3)" fill="#bccd9c" opacity="0.65"/>
<ellipse cx="291.7" cy="352.0" rx="7.5" ry="0.42" transform="rotate(-54 291.7 352.0)" fill="#bccd9c" opacity="0.54"/>
<ellipse cx="342.1" cy="356.8" rx="11.3" ry="0.45" transform="rotate(-4 342.1 356.8)" fill="#bccd9c" opacity="0.47"/>
<ellipse cx="316.9" cy="291.3" rx="9.2" ry="0.70" transform="rotate(-26 316.9 291.3)" fill="#bccd9c" opacity="0.42"/>
<ellipse cx="256.3" cy="369.8" rx="6.4" ry="0.65" transform="rotate(-67 256.3 369.8)" fill="#bccd9c" opacity="0.68"/>
<ellipse cx="314.3" cy="296.7" rx="7.9" ry="0.49" transform="rotate(-40 314.3 296.7)" fill="#bccd9c" opacity="0.35"/>
<ellipse cx="358.0" cy="382.9" rx="6.8" ry="0.65" transform="rotate(-22 358.0 382.9)" fill="#bccd9c" opacity="0.49"/>
<ellipse cx="279.1" cy="373.7" rx="9.9" ry="0.69" transform="rotate(-73 279.1 373.7)" fill="#bccd9c" opacity="0.38"/>
<ellipse cx="256.7" cy="339.5" rx="10.3" ry="0.48" transform="rotate(-73 256.7 339.5)" fill="#bccd9c" opacity="0.50"/>
<ellipse cx="328.8" cy="321.6" rx="7.1" ry="0.52" transform="rotate(-36 328.8 321.6)" fill="#bccd9c" opacity="0.45"/>
<ellipse cx="237.1" cy="366.3" rx="7.6" ry="0.51" transform="rotate(-66 237.1 366.3)" fill="#bccd9c" opacity="0.60"/>
<ellipse cx="370.4" cy="294.8" rx="9.3" ry="0.55" transform="rotate(-28 370.4 294.8)" fill="#bccd9c" opacity="0.52"/>
<ellipse cx="292.0" cy="318.0" rx="7.0" ry="0.60" transform="rotate(-64 292.0 318.0)" fill="#bccd9c" opacity="0.63"/>
<ellipse cx="299.3" cy="384.9" rx="6.9" ry="0.45" transform="rotate(-14 299.3 384.9)" fill="#bccd9c" opacity="0.58"/>
<ellipse cx="340.9" cy="301.4" rx="6.4" ry="0.43" transform="rotate(-34 340.9 301.4)" fill="#bccd9c" opacity="0.49"/>
<ellipse cx="236.5" cy="406.9" rx="6.7" ry="0.55" transform="rotate(-63 236.5 406.9)" fill="#bccd9c" opacity="0.46"/>
<ellipse cx="293.6" cy="405.9" rx="7.4" ry="0.66" transform="rotate(-62 293.6 405.9)" fill="#bccd9c" opacity="0.39"/>
<ellipse cx="306.0" cy="341.0" rx="11.7" ry="0.65" transform="rotate(-29 306.0 341.0)" fill="#bccd9c" opacity="0.43"/>
<ellipse cx="279.3" cy="323.5" rx="8.9" ry="0.52" transform="rotate(-61 279.3 323.5)" fill="#bccd9c" opacity="0.45"/>
<ellipse cx="285.5" cy="394.9" rx="12.6" ry="0.57" transform="rotate(-74 285.5 394.9)" fill="#bccd9c" opacity="0.53"/>
<ellipse cx="282.6" cy="341.7" rx="8.6" ry="0.44" transform="rotate(-66 282.6 341.7)" fill="#bccd9c" opacity="0.46"/>
<ellipse cx="274.9" cy="387.5" rx="10.8" ry="0.55" transform="rotate(-60 274.9 387.5)" fill="#bccd9c" opacity="0.43"/>
<ellipse cx="227.3" cy="361.8" rx="8.6" ry="0.65" transform="rotate(-51 227.3 361.8)" fill="#bccd9c" opacity="0.42"/>
<ellipse cx="279.8" cy="391.9" rx="10.0" ry="0.59" transform="rotate(-74 279.8 391.9)" fill="#bccd9c" opacity="0.48"/>
<ellipse cx="264.5" cy="294.4" rx="7.3" ry="0.42" transform="rotate(-76 264.5 294.4)" fill="#bccd9c" opacity="0.62"/>
<ellipse cx="364.5" cy="362.6" rx="12.2" ry="0.65" transform="rotate(-26 364.5 362.6)" fill="#bccd9c" opacity="0.52"/>
<ellipse cx="351.1" cy="311.7" rx="10.6" ry="0.60" transform="rotate(-47 351.1 311.7)" fill="#bccd9c" opacity="0.63"/>
<ellipse cx="350.9" cy="400.0" rx="11.5" ry="0.52" transform="rotate(-18 350.9 400.0)" fill="#bccd9c" opacity="0.59"/>
</g>
</g>
<line x1="331.7" y1="394" x2="352.6" y2="394" stroke="#000" stroke-width="2.5"/>

</svg>
</body></html>
